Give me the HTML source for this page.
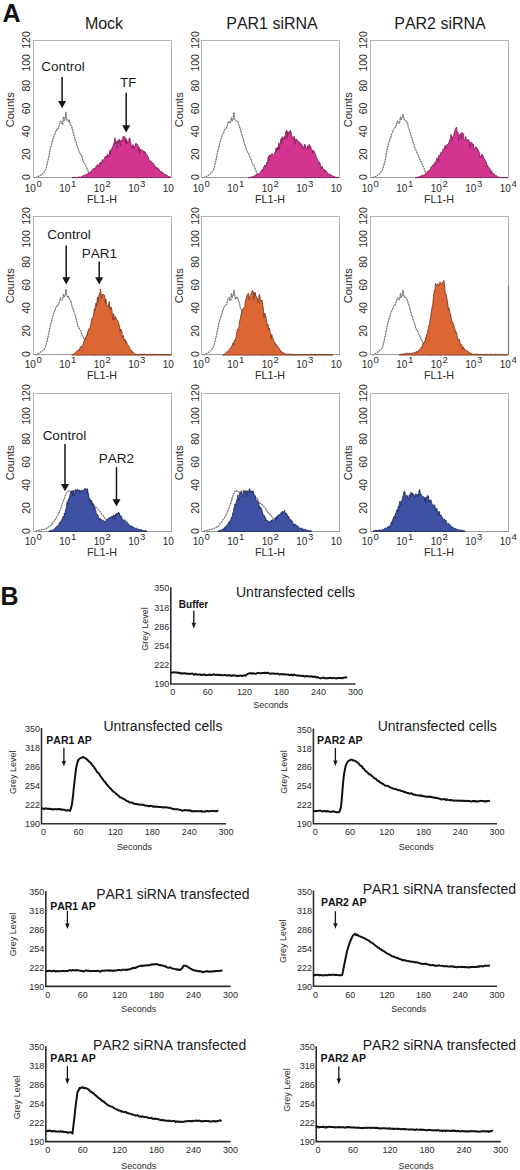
<!DOCTYPE html>
<html><head><meta charset="utf-8"><title>Figure</title>
<style>html,body{margin:0;padding:0;background:#fff;width:520px;height:1170px;overflow:hidden}
body{position:relative;font-family:"Liberation Sans", sans-serif}</style></head>
<body>
<svg width="520" height="1170" viewBox="0 0 520 1170" style="position:absolute;left:0;top:0">
<defs>
<clipPath id="c0"><rect x="0" y="0" width="174.6" height="1170"/></clipPath>
<clipPath id="c1"><rect x="174.6" y="0" width="168" height="1170"/></clipPath>
<clipPath id="c2"><rect x="342.6" y="0" width="178" height="1170"/></clipPath>
</defs>
<rect x="0" y="0" width="520" height="1170" fill="#fff"/>
<g font-family='"Liberation Sans", sans-serif' style="font-kerning:none">
<text x="2.6" y="21.9" font-size="25" font-weight="bold" fill="#111">A</text>
<text x="0.6" y="604.8" font-size="25" font-weight="bold" fill="#111">B</text>
<text x="104" y="28.6" font-size="16" text-anchor="middle" fill="#1a1a1a">Mock</text>
<text x="272" y="28.6" font-size="16" text-anchor="middle" fill="#1a1a1a">PAR1 siRNA</text>
<text x="440" y="28.6" font-size="16" text-anchor="middle" fill="#1a1a1a">PAR2 siRNA</text>
<g clip-path="url(#c0)">
<rect x="33.5" y="40.5" width="138" height="137.0" fill="none" stroke="#b4b4b4" stroke-width="1"/>
<line x1="33.0" y1="177.5" x2="172.0" y2="177.5" stroke="#9a9a9a" stroke-width="1.2"/>
<path d="M35.50 177.30 L35.50 177.30 36.30 177.30 37.10 177.28 37.90 176.93 38.70 176.29 39.50 175.83 40.30 175.27 41.10 175.17 41.90 174.48 42.70 173.73 43.50 172.79 44.30 171.70 45.10 170.56 45.90 168.90 46.70 165.98 47.50 162.20 48.30 159.17 49.10 156.30 49.90 150.50 50.70 147.44 51.50 144.45 52.30 140.80 53.10 138.43 53.90 136.16 54.70 134.66 55.50 131.78 56.30 131.39 57.10 128.57 57.90 128.93 58.70 126.90 59.50 124.43 60.30 121.28 61.10 121.31 61.90 122.82 62.70 124.69 63.50 116.94 64.30 120.27 65.10 119.68 65.90 112.39 66.70 118.86 67.50 120.82 68.30 121.85 69.10 119.95 69.90 123.47 70.70 125.21 71.50 125.79 72.30 129.05 73.10 132.51 73.90 134.77 74.70 138.41 75.50 140.69 76.30 142.42 77.10 147.00 77.90 147.76 78.70 151.22 79.50 151.91 80.30 154.25 81.10 154.81 81.90 156.69 82.70 159.32 83.50 162.01 84.30 163.09 85.10 164.27 85.90 166.20 86.70 167.55 87.50 169.46 88.30 171.70 89.10 173.45 89.90 174.79 90.70 176.56 91.50 176.85 92.30 177.30 93.10 177.30 93.90 177.30 94.70 177.30 95.50 177.30 96.30 177.30" fill="none" stroke="#a8a8a8" stroke-width="1.0" stroke-linejoin="round"/>
<path d="M35.50 177.30 L35.50 177.30 36.30 177.30 37.10 177.28 37.90 176.93 38.70 176.29 39.50 175.83 40.30 175.27 41.10 175.17 41.90 174.48 42.70 173.73 43.50 172.79 44.30 171.70 45.10 170.56 45.90 168.90 46.70 165.98 47.50 162.20 48.30 159.17 49.10 156.30 49.90 150.50 50.70 147.44 51.50 144.45 52.30 140.80 53.10 138.43 53.90 136.16 54.70 134.66 55.50 131.78 56.30 131.39 57.10 128.57 57.90 128.93 58.70 126.90 59.50 124.43 60.30 121.28 61.10 121.31 61.90 122.82 62.70 124.69 63.50 116.94 64.30 120.27 65.10 119.68 65.90 112.39 66.70 118.86 67.50 120.82 68.30 121.85 69.10 119.95 69.90 123.47 70.70 125.21 71.50 125.79 72.30 129.05 73.10 132.51 73.90 134.77 74.70 138.41 75.50 140.69 76.30 142.42 77.10 147.00 77.90 147.76 78.70 151.22 79.50 151.91 80.30 154.25 81.10 154.81 81.90 156.69 82.70 159.32 83.50 162.01 84.30 163.09 85.10 164.27 85.90 166.20 86.70 167.55 87.50 169.46 88.30 171.70 89.10 173.45 89.90 174.79 90.70 176.56 91.50 176.85 92.30 177.30 93.10 177.30 93.90 177.30 94.70 177.30 95.50 177.30 96.30 177.30" fill="none" stroke="#6a6a6a" stroke-width="1.1" stroke-dasharray="1.3 1.3" stroke-linejoin="round"/>
<path d="M72.00 177.60 L72.00 177.60 72.55 177.60 73.10 177.60 73.65 177.59 74.20 177.34 74.75 177.31 75.30 177.41 75.85 177.60 76.40 177.60 76.95 177.34 77.50 177.60 78.05 177.60 78.60 177.19 79.15 177.18 79.70 177.02 80.25 177.41 80.80 176.84 81.35 176.67 81.90 177.23 82.45 175.96 83.00 175.85 83.55 175.53 84.10 175.51 84.65 175.54 85.20 174.90 85.75 174.86 86.30 174.29 86.85 174.64 87.40 173.83 87.95 173.24 88.50 172.89 89.05 172.90 89.60 173.73 90.15 171.91 90.70 171.82 91.25 170.81 91.80 170.56 92.35 169.67 92.90 169.76 93.45 168.90 94.00 167.96 94.55 169.49 95.10 168.05 95.65 167.74 96.20 165.90 96.75 166.31 97.30 165.00 97.85 164.55 98.40 165.29 98.95 166.83 99.50 163.21 100.05 164.19 100.60 162.06 101.15 164.39 101.70 162.29 102.25 160.01 102.80 159.33 103.35 161.90 103.90 161.33 104.45 158.31 105.00 156.66 105.55 156.76 106.10 155.94 106.65 157.95 107.20 154.46 107.75 153.92 108.30 155.28 108.85 156.67 109.40 154.21 109.95 150.42 110.50 154.23 111.05 149.51 111.60 150.47 112.15 147.59 112.70 146.96 113.25 145.43 113.80 143.34 114.35 142.61 114.90 137.77 115.45 141.17 116.00 144.00 116.55 141.30 117.10 148.03 117.65 141.25 118.20 140.19 118.75 143.52 119.30 138.93 119.85 141.38 120.40 146.11 120.95 140.07 121.50 141.69 122.05 140.08 122.60 138.65 123.15 136.43 123.70 137.00 124.25 137.34 124.80 136.47 125.35 143.15 125.90 138.25 126.45 143.50 127.00 140.25 127.55 143.87 128.10 143.12 128.65 141.26 129.20 138.45 129.75 137.73 130.30 141.20 130.85 143.16 131.40 148.04 131.95 146.24 132.50 147.29 133.05 144.50 133.60 148.72 134.15 146.04 134.70 147.04 135.25 146.52 135.80 143.34 136.35 144.01 136.90 143.86 137.45 144.71 138.00 145.57 138.55 150.76 139.10 147.28 139.65 153.23 140.20 150.24 140.75 149.09 141.30 150.72 141.85 151.20 142.40 150.10 142.95 150.53 143.50 151.01 144.05 153.34 144.60 151.30 145.15 151.95 145.70 154.09 146.25 153.86 146.80 154.61 147.35 155.73 147.90 157.06 148.45 157.61 149.00 159.76 149.55 161.92 150.10 161.62 150.65 160.65 151.20 161.25 151.75 162.38 152.30 164.08 152.85 163.21 153.40 163.45 153.95 164.01 154.50 166.33 155.05 165.91 155.60 168.48 156.15 168.54 156.70 167.24 157.25 168.02 157.80 167.96 158.35 168.53 158.90 169.09 159.45 169.67 160.00 171.33 160.55 172.39 161.10 171.07 161.65 171.53 162.20 172.14 162.75 174.03 163.30 173.17 163.85 173.41 164.40 175.09 164.95 174.13 165.50 175.26 166.05 174.72 166.60 175.01 167.15 175.43 167.70 175.60 168.25 176.41 168.80 176.81 169.35 176.47 169.90 177.32 170.45 176.98 L170.45 177.60 Z" fill="#d43590" stroke="#861c58" stroke-width="0.9" stroke-linejoin="round"/>
<text transform="translate(29.6 177.0) rotate(-90)" font-size="10.5" text-anchor="middle" fill="#2a2a2a">0</text>
<text transform="translate(29.6 154.2) rotate(-90)" font-size="10.5" text-anchor="middle" fill="#2a2a2a">20</text>
<text transform="translate(29.6 131.3) rotate(-90)" font-size="10.5" text-anchor="middle" fill="#2a2a2a">40</text>
<text transform="translate(29.6 108.5) rotate(-90)" font-size="10.5" text-anchor="middle" fill="#2a2a2a">60</text>
<text transform="translate(29.6 85.7) rotate(-90)" font-size="10.5" text-anchor="middle" fill="#2a2a2a">80</text>
<text transform="translate(29.6 62.8) rotate(-90)" font-size="10.5" text-anchor="middle" fill="#2a2a2a">100</text>
<text transform="translate(29.6 40.0) rotate(-90)" font-size="10.5" text-anchor="middle" fill="#2a2a2a">120</text>
<text transform="translate(14.2 109.8) rotate(-90)" font-size="11" text-anchor="middle" fill="#2a2a2a">Counts</text>
<text x="33.3" y="191.8" font-size="10" text-anchor="middle" fill="#2a2a2a">10<tspan dx="0.8" dy="-4.7" font-size="9.6">0</tspan></text>
<text x="67.8" y="191.8" font-size="10" text-anchor="middle" fill="#2a2a2a">10<tspan dx="0.8" dy="-4.7" font-size="9.6">1</tspan></text>
<text x="102.3" y="191.8" font-size="10" text-anchor="middle" fill="#2a2a2a">10<tspan dx="0.8" dy="-4.7" font-size="9.6">2</tspan></text>
<text x="136.8" y="191.8" font-size="10" text-anchor="middle" fill="#2a2a2a">10<tspan dx="0.8" dy="-4.7" font-size="9.6">3</tspan></text>
<text x="171.3" y="191.8" font-size="10" text-anchor="middle" fill="#2a2a2a">10<tspan dx="0.8" dy="-4.7" font-size="9.6">4</tspan></text>
<text x="102.0" y="203.3" font-size="10.8" text-anchor="middle" fill="#2a2a2a">FL1-H</text>
</g>
<g clip-path="url(#c1)">
<rect x="201.5" y="40.5" width="138" height="137.0" fill="none" stroke="#b4b4b4" stroke-width="1"/>
<line x1="201.0" y1="177.5" x2="340.0" y2="177.5" stroke="#9a9a9a" stroke-width="1.2"/>
<path d="M203.50 177.30 L203.50 177.30 204.30 177.30 205.10 177.30 205.90 176.78 206.70 176.42 207.50 175.80 208.30 175.27 209.10 174.79 209.90 174.27 210.70 173.77 211.50 172.47 212.30 171.66 213.10 170.65 213.90 168.87 214.70 165.51 215.50 162.20 216.30 158.62 217.10 154.56 217.90 150.50 218.70 148.24 219.50 143.79 220.30 141.45 221.10 138.99 221.90 135.81 222.70 134.16 223.50 133.52 224.30 129.86 225.10 129.23 225.90 128.85 226.70 127.52 227.50 125.00 228.30 121.50 229.10 121.47 229.90 123.18 230.70 122.00 231.50 117.47 232.30 120.75 233.10 119.39 233.90 112.39 234.70 118.49 235.50 120.17 236.30 121.07 237.10 121.02 237.90 121.94 238.70 124.46 239.50 126.76 240.30 129.09 241.10 131.99 241.90 134.71 242.70 137.41 243.50 139.44 244.30 142.34 245.10 145.60 245.90 147.52 246.70 150.59 247.50 151.80 248.30 153.20 249.10 155.11 249.90 157.28 250.70 158.79 251.50 161.26 252.30 162.93 253.10 164.64 253.90 165.51 254.70 167.83 255.50 169.46 256.30 171.53 257.10 173.37 257.90 174.79 258.70 176.46 259.50 176.90 260.30 177.30 261.10 177.30 261.90 177.30 262.70 177.30 263.50 177.30 264.30 177.30" fill="none" stroke="#a8a8a8" stroke-width="1.0" stroke-linejoin="round"/>
<path d="M203.50 177.30 L203.50 177.30 204.30 177.30 205.10 177.30 205.90 176.78 206.70 176.42 207.50 175.80 208.30 175.27 209.10 174.79 209.90 174.27 210.70 173.77 211.50 172.47 212.30 171.66 213.10 170.65 213.90 168.87 214.70 165.51 215.50 162.20 216.30 158.62 217.10 154.56 217.90 150.50 218.70 148.24 219.50 143.79 220.30 141.45 221.10 138.99 221.90 135.81 222.70 134.16 223.50 133.52 224.30 129.86 225.10 129.23 225.90 128.85 226.70 127.52 227.50 125.00 228.30 121.50 229.10 121.47 229.90 123.18 230.70 122.00 231.50 117.47 232.30 120.75 233.10 119.39 233.90 112.39 234.70 118.49 235.50 120.17 236.30 121.07 237.10 121.02 237.90 121.94 238.70 124.46 239.50 126.76 240.30 129.09 241.10 131.99 241.90 134.71 242.70 137.41 243.50 139.44 244.30 142.34 245.10 145.60 245.90 147.52 246.70 150.59 247.50 151.80 248.30 153.20 249.10 155.11 249.90 157.28 250.70 158.79 251.50 161.26 252.30 162.93 253.10 164.64 253.90 165.51 254.70 167.83 255.50 169.46 256.30 171.53 257.10 173.37 257.90 174.79 258.70 176.46 259.50 176.90 260.30 177.30 261.10 177.30 261.90 177.30 262.70 177.30 263.50 177.30 264.30 177.30" fill="none" stroke="#6a6a6a" stroke-width="1.1" stroke-dasharray="1.3 1.3" stroke-linejoin="round"/>
<path d="M248.00 177.60 L248.00 177.60 248.55 177.60 249.10 177.60 249.65 177.59 250.20 177.37 250.75 177.04 251.30 177.43 251.85 176.64 252.40 176.81 252.95 176.64 253.50 176.05 254.05 176.05 254.60 175.99 255.15 175.45 255.70 175.01 256.25 174.97 256.80 174.15 257.35 174.93 257.90 174.04 258.45 173.71 259.00 174.16 259.55 173.84 260.10 173.48 260.65 171.47 261.20 170.84 261.75 170.46 262.30 169.43 262.85 170.61 263.40 168.11 263.95 166.77 264.50 165.46 265.05 166.54 265.60 164.99 266.15 166.28 266.70 162.40 267.25 163.99 267.80 161.25 268.35 156.21 268.90 160.65 269.45 155.09 270.00 155.15 270.55 156.15 271.10 154.33 271.65 153.97 272.20 153.69 272.75 154.72 273.30 154.93 273.85 154.42 274.40 154.69 274.95 152.15 275.50 152.71 276.05 147.93 276.60 151.48 277.15 147.81 277.70 146.98 278.25 149.41 278.80 142.73 279.35 149.52 279.90 143.93 280.45 143.23 281.00 138.72 281.55 143.54 282.10 136.77 282.65 139.85 283.20 138.13 283.75 139.32 284.30 136.00 284.85 139.14 285.40 134.73 285.95 131.98 286.50 130.00 287.05 138.18 287.60 131.36 288.15 132.88 288.70 134.57 289.25 131.46 289.80 133.26 290.35 130.10 290.90 132.12 291.45 134.64 292.00 135.99 292.55 137.24 293.10 137.83 293.65 139.82 294.20 136.24 294.75 142.79 295.30 144.46 295.85 138.90 296.40 139.74 296.95 139.17 297.50 141.44 298.05 141.93 298.60 141.26 299.15 141.40 299.70 144.31 300.25 144.67 300.80 143.19 301.35 143.94 301.90 148.23 302.45 145.45 303.00 146.20 303.55 148.89 304.10 148.92 304.65 144.02 305.20 145.41 305.75 147.11 306.30 149.36 306.85 148.99 307.40 145.81 307.95 147.17 308.50 148.79 309.05 144.29 309.60 146.09 310.15 145.83 310.70 146.61 311.25 148.91 311.80 149.61 312.35 150.14 312.90 153.29 313.45 150.44 314.00 151.18 314.55 152.60 315.10 154.17 315.65 154.93 316.20 157.08 316.75 158.35 317.30 158.82 317.85 160.86 318.40 161.37 318.95 164.40 319.50 162.08 320.05 163.50 320.60 166.29 321.15 168.86 321.70 166.34 322.25 166.36 322.80 168.76 323.35 169.12 323.90 169.92 324.45 169.34 325.00 171.50 325.55 170.38 326.10 171.76 326.65 171.41 327.20 172.38 327.75 173.13 328.30 174.73 328.85 174.34 329.40 174.31 329.95 174.05 330.50 174.61 331.05 175.63 331.60 175.21 332.15 175.51 332.70 176.10 333.25 176.46 333.80 176.62 334.35 176.36 334.90 176.58 335.45 177.39 336.00 177.06 336.55 177.52 337.10 177.51 337.65 177.60 338.20 177.60 338.75 177.60 L338.75 177.60 Z" fill="#d43590" stroke="#861c58" stroke-width="0.9" stroke-linejoin="round"/>
<text transform="translate(198.8 177.0) rotate(-90)" font-size="10.5" text-anchor="middle" fill="#2a2a2a">0</text>
<text transform="translate(198.8 154.2) rotate(-90)" font-size="10.5" text-anchor="middle" fill="#2a2a2a">20</text>
<text transform="translate(198.8 131.3) rotate(-90)" font-size="10.5" text-anchor="middle" fill="#2a2a2a">40</text>
<text transform="translate(198.8 108.5) rotate(-90)" font-size="10.5" text-anchor="middle" fill="#2a2a2a">60</text>
<text transform="translate(198.8 85.7) rotate(-90)" font-size="10.5" text-anchor="middle" fill="#2a2a2a">80</text>
<text transform="translate(198.8 62.8) rotate(-90)" font-size="10.5" text-anchor="middle" fill="#2a2a2a">100</text>
<text transform="translate(198.8 40.0) rotate(-90)" font-size="10.5" text-anchor="middle" fill="#2a2a2a">120</text>
<text transform="translate(182.7 109.8) rotate(-90)" font-size="11" text-anchor="middle" fill="#2a2a2a">Counts</text>
<text x="201.3" y="191.8" font-size="10" text-anchor="middle" fill="#2a2a2a">10<tspan dx="0.8" dy="-4.7" font-size="9.6">0</tspan></text>
<text x="235.8" y="191.8" font-size="10" text-anchor="middle" fill="#2a2a2a">10<tspan dx="0.8" dy="-4.7" font-size="9.6">1</tspan></text>
<text x="270.3" y="191.8" font-size="10" text-anchor="middle" fill="#2a2a2a">10<tspan dx="0.8" dy="-4.7" font-size="9.6">2</tspan></text>
<text x="304.8" y="191.8" font-size="10" text-anchor="middle" fill="#2a2a2a">10<tspan dx="0.8" dy="-4.7" font-size="9.6">3</tspan></text>
<text x="339.3" y="191.8" font-size="10" text-anchor="middle" fill="#2a2a2a">10<tspan dx="0.8" dy="-4.7" font-size="9.6">4</tspan></text>
<text x="270.0" y="203.3" font-size="10.8" text-anchor="middle" fill="#2a2a2a">FL1-H</text>
</g>
<g clip-path="url(#c2)">
<rect x="370.5" y="40.5" width="138" height="137.0" fill="none" stroke="#b4b4b4" stroke-width="1"/>
<line x1="370.0" y1="177.5" x2="509.0" y2="177.5" stroke="#9a9a9a" stroke-width="1.2"/>
<path d="M372.50 177.30 L372.50 177.30 373.30 177.30 374.10 177.28 374.90 177.07 375.70 176.47 376.50 175.85 377.30 175.27 378.10 174.87 378.90 174.76 379.70 173.46 380.50 172.83 381.30 171.29 382.10 170.47 382.90 168.62 383.70 165.66 384.50 162.89 385.30 159.66 386.10 155.06 386.90 150.54 387.70 146.84 388.50 143.74 389.30 141.54 390.10 138.22 390.90 137.31 391.70 133.58 392.50 132.54 393.30 129.70 394.10 128.57 394.90 127.54 395.70 127.60 396.50 124.01 397.30 121.15 398.10 121.58 398.90 123.80 399.70 122.00 400.50 117.09 401.30 119.60 402.10 118.70 402.90 114.31 403.70 117.37 404.50 120.17 405.30 120.46 406.10 120.95 406.90 122.98 407.70 123.25 408.50 128.38 409.30 129.05 410.10 132.26 410.90 135.34 411.70 137.59 412.50 140.08 413.30 142.79 414.10 145.10 414.90 148.40 415.70 149.70 416.50 151.59 417.30 153.65 418.10 154.81 418.90 157.26 419.70 158.95 420.50 160.75 421.30 162.41 422.10 164.21 422.90 165.78 423.70 167.60 424.50 169.69 425.30 171.97 426.10 173.17 426.90 175.03 427.70 176.59 428.50 177.01 429.30 177.29 430.10 177.30 430.90 177.30 431.70 177.30 432.50 177.30 433.30 177.30" fill="none" stroke="#a8a8a8" stroke-width="1.0" stroke-linejoin="round"/>
<path d="M372.50 177.30 L372.50 177.30 373.30 177.30 374.10 177.28 374.90 177.07 375.70 176.47 376.50 175.85 377.30 175.27 378.10 174.87 378.90 174.76 379.70 173.46 380.50 172.83 381.30 171.29 382.10 170.47 382.90 168.62 383.70 165.66 384.50 162.89 385.30 159.66 386.10 155.06 386.90 150.54 387.70 146.84 388.50 143.74 389.30 141.54 390.10 138.22 390.90 137.31 391.70 133.58 392.50 132.54 393.30 129.70 394.10 128.57 394.90 127.54 395.70 127.60 396.50 124.01 397.30 121.15 398.10 121.58 398.90 123.80 399.70 122.00 400.50 117.09 401.30 119.60 402.10 118.70 402.90 114.31 403.70 117.37 404.50 120.17 405.30 120.46 406.10 120.95 406.90 122.98 407.70 123.25 408.50 128.38 409.30 129.05 410.10 132.26 410.90 135.34 411.70 137.59 412.50 140.08 413.30 142.79 414.10 145.10 414.90 148.40 415.70 149.70 416.50 151.59 417.30 153.65 418.10 154.81 418.90 157.26 419.70 158.95 420.50 160.75 421.30 162.41 422.10 164.21 422.90 165.78 423.70 167.60 424.50 169.69 425.30 171.97 426.10 173.17 426.90 175.03 427.70 176.59 428.50 177.01 429.30 177.29 430.10 177.30 430.90 177.30 431.70 177.30 432.50 177.30 433.30 177.30" fill="none" stroke="#6a6a6a" stroke-width="1.1" stroke-dasharray="1.3 1.3" stroke-linejoin="round"/>
<path d="M415.20 177.60 L415.20 177.60 415.75 177.60 416.30 177.51 416.85 177.60 417.40 177.55 417.95 176.70 418.50 177.60 419.05 176.67 419.60 177.60 420.15 176.01 420.70 176.00 421.25 175.66 421.80 176.11 422.35 175.25 422.90 175.42 423.45 175.47 424.00 174.53 424.55 175.36 425.10 174.36 425.65 173.32 426.20 173.17 426.75 173.09 427.30 171.65 427.85 171.57 428.40 171.74 428.95 170.21 429.50 170.29 430.05 169.40 430.60 168.64 431.15 166.75 431.70 166.77 432.25 166.00 432.80 164.96 433.35 164.40 433.90 164.94 434.45 164.88 435.00 161.98 435.55 164.18 436.10 161.24 436.65 158.60 437.20 157.75 437.75 159.66 438.30 161.74 438.85 155.29 439.40 156.51 439.95 155.46 440.50 152.99 441.05 152.76 441.60 151.89 442.15 152.71 442.70 149.97 443.25 149.01 443.80 148.97 444.35 149.01 444.90 145.73 445.45 145.40 446.00 148.62 446.55 146.88 447.10 144.21 447.65 145.27 448.20 144.85 448.75 142.48 449.30 142.04 449.85 139.75 450.40 139.75 450.95 134.43 451.50 136.64 452.05 140.88 452.60 137.12 453.15 136.22 453.70 135.61 454.25 132.83 454.80 130.80 455.35 129.36 455.90 128.24 456.45 127.12 457.00 131.23 457.55 132.49 458.10 132.37 458.65 141.16 459.20 137.50 459.75 134.70 460.30 133.96 460.85 133.23 461.40 139.18 461.95 132.34 462.50 132.88 463.05 133.42 463.60 133.98 464.15 140.54 464.70 140.32 465.25 140.44 465.80 136.58 466.35 140.84 466.90 140.03 467.45 140.79 468.00 139.29 468.55 139.70 469.10 140.71 469.65 144.99 470.20 148.49 470.75 142.20 471.30 142.36 471.85 142.32 472.40 144.35 472.95 146.13 473.50 144.21 474.05 149.46 474.60 148.76 475.15 149.21 475.70 146.85 476.25 147.05 476.80 147.74 477.35 148.43 477.90 149.70 478.45 150.29 479.00 152.55 479.55 152.87 480.10 158.07 480.65 156.15 481.20 156.98 481.75 154.04 482.30 154.75 482.85 155.46 483.40 156.55 483.95 159.16 484.50 158.80 485.05 159.93 485.60 161.91 486.15 162.06 486.70 164.05 487.25 167.17 487.80 165.43 488.35 167.69 488.90 167.28 489.45 168.95 490.00 168.85 490.55 172.68 491.10 170.52 491.65 171.43 492.20 172.85 492.75 173.90 493.30 173.60 493.85 173.74 494.40 174.38 494.95 174.73 495.50 176.66 496.05 176.31 496.60 175.54 497.15 175.99 497.70 177.21 498.25 177.09 498.80 177.49 499.35 177.40 499.90 176.91 500.45 177.33 501.00 177.23 501.55 177.53 502.10 177.60 502.65 177.60 503.20 177.59 503.75 177.53 504.30 177.43 504.85 177.60 505.40 177.60 505.95 177.28 506.50 177.60 507.05 177.60 507.60 177.60 L507.60 177.60 Z" fill="#d43590" stroke="#861c58" stroke-width="0.9" stroke-linejoin="round"/>
<text transform="translate(366.9 177.0) rotate(-90)" font-size="10.5" text-anchor="middle" fill="#2a2a2a">0</text>
<text transform="translate(366.9 154.2) rotate(-90)" font-size="10.5" text-anchor="middle" fill="#2a2a2a">20</text>
<text transform="translate(366.9 131.3) rotate(-90)" font-size="10.5" text-anchor="middle" fill="#2a2a2a">40</text>
<text transform="translate(366.9 108.5) rotate(-90)" font-size="10.5" text-anchor="middle" fill="#2a2a2a">60</text>
<text transform="translate(366.9 85.7) rotate(-90)" font-size="10.5" text-anchor="middle" fill="#2a2a2a">80</text>
<text transform="translate(366.9 62.8) rotate(-90)" font-size="10.5" text-anchor="middle" fill="#2a2a2a">100</text>
<text transform="translate(366.9 40.0) rotate(-90)" font-size="10.5" text-anchor="middle" fill="#2a2a2a">120</text>
<text transform="translate(351.5 109.8) rotate(-90)" font-size="11" text-anchor="middle" fill="#2a2a2a">Counts</text>
<text x="370.3" y="191.8" font-size="10" text-anchor="middle" fill="#2a2a2a">10<tspan dx="0.8" dy="-4.7" font-size="9.6">0</tspan></text>
<text x="404.8" y="191.8" font-size="10" text-anchor="middle" fill="#2a2a2a">10<tspan dx="0.8" dy="-4.7" font-size="9.6">1</tspan></text>
<text x="439.3" y="191.8" font-size="10" text-anchor="middle" fill="#2a2a2a">10<tspan dx="0.8" dy="-4.7" font-size="9.6">2</tspan></text>
<text x="473.8" y="191.8" font-size="10" text-anchor="middle" fill="#2a2a2a">10<tspan dx="0.8" dy="-4.7" font-size="9.6">3</tspan></text>
<text x="508.3" y="191.8" font-size="10" text-anchor="middle" fill="#2a2a2a">10<tspan dx="0.8" dy="-4.7" font-size="9.6">4</tspan></text>
<text x="439.0" y="203.3" font-size="10.8" text-anchor="middle" fill="#2a2a2a">FL1-H</text>
</g>
<g clip-path="url(#c0)">
<rect x="33.5" y="216.5" width="138" height="138.0" fill="none" stroke="#b4b4b4" stroke-width="1"/>
<line x1="33.0" y1="354.5" x2="172.0" y2="354.5" stroke="#9a9a9a" stroke-width="1.2"/>
<path d="M35.50 354.80 L35.50 354.80 36.30 354.76 37.10 354.29 37.90 353.78 38.70 353.27 39.50 352.77 40.30 352.27 41.10 351.79 41.90 351.27 42.70 350.54 43.50 349.69 44.30 348.71 45.10 347.76 45.90 345.68 46.70 342.39 47.50 339.16 48.30 335.62 49.10 331.63 49.90 327.50 50.70 324.11 51.50 322.19 52.30 317.64 53.10 315.87 53.90 312.94 54.70 311.11 55.50 308.53 56.30 306.70 57.10 305.57 57.90 305.75 58.70 303.29 59.50 302.16 60.30 298.03 61.10 299.39 61.90 300.23 62.70 299.00 63.50 294.44 64.30 296.80 65.10 295.90 65.90 289.39 66.70 295.19 67.50 297.17 68.30 296.41 69.10 298.38 69.90 299.58 70.70 300.25 71.50 303.71 72.30 307.54 73.10 308.99 73.90 311.41 74.70 313.82 75.50 316.44 76.30 319.27 77.10 322.94 77.90 326.39 78.70 326.70 79.50 329.50 80.30 330.39 81.10 331.81 81.90 334.61 82.70 336.09 83.50 337.75 84.30 339.41 85.10 341.88 85.90 342.75 86.70 344.56 87.50 346.46 88.30 348.50 89.10 350.28 89.90 351.92 90.70 353.43 91.50 354.09 92.30 354.29 93.10 354.71 93.90 354.77 94.70 354.80 95.50 354.80 96.30 354.80" fill="none" stroke="#a8a8a8" stroke-width="1.0" stroke-linejoin="round"/>
<path d="M35.50 354.80 L35.50 354.80 36.30 354.76 37.10 354.29 37.90 353.78 38.70 353.27 39.50 352.77 40.30 352.27 41.10 351.79 41.90 351.27 42.70 350.54 43.50 349.69 44.30 348.71 45.10 347.76 45.90 345.68 46.70 342.39 47.50 339.16 48.30 335.62 49.10 331.63 49.90 327.50 50.70 324.11 51.50 322.19 52.30 317.64 53.10 315.87 53.90 312.94 54.70 311.11 55.50 308.53 56.30 306.70 57.10 305.57 57.90 305.75 58.70 303.29 59.50 302.16 60.30 298.03 61.10 299.39 61.90 300.23 62.70 299.00 63.50 294.44 64.30 296.80 65.10 295.90 65.90 289.39 66.70 295.19 67.50 297.17 68.30 296.41 69.10 298.38 69.90 299.58 70.70 300.25 71.50 303.71 72.30 307.54 73.10 308.99 73.90 311.41 74.70 313.82 75.50 316.44 76.30 319.27 77.10 322.94 77.90 326.39 78.70 326.70 79.50 329.50 80.30 330.39 81.10 331.81 81.90 334.61 82.70 336.09 83.50 337.75 84.30 339.41 85.10 341.88 85.90 342.75 86.70 344.56 87.50 346.46 88.30 348.50 89.10 350.28 89.90 351.92 90.70 353.43 91.50 354.09 92.30 354.29 93.10 354.71 93.90 354.77 94.70 354.80 95.50 354.80 96.30 354.80" fill="none" stroke="#6a6a6a" stroke-width="1.1" stroke-dasharray="1.3 1.3" stroke-linejoin="round"/>
<path d="M71.80 355.10 L71.80 355.00 72.35 354.67 72.90 354.43 73.45 353.80 74.00 353.76 74.55 353.42 75.10 353.41 75.65 352.58 76.20 351.66 76.75 351.29 77.30 350.80 77.85 350.59 78.40 350.04 78.95 349.48 79.50 350.65 80.05 347.64 80.60 346.87 81.15 346.10 81.70 348.10 82.25 347.31 82.80 345.12 83.35 343.45 83.90 341.17 84.45 340.60 85.00 338.58 85.55 339.31 86.10 336.34 86.65 334.86 87.20 335.54 87.75 331.99 88.30 330.57 88.85 328.78 89.40 329.44 89.95 328.01 90.50 325.40 91.05 323.11 91.60 319.45 92.15 317.82 92.70 317.40 93.25 316.58 93.80 313.44 94.35 308.69 94.90 310.50 95.45 305.55 96.00 303.07 96.55 306.94 97.10 300.32 97.65 296.95 98.20 303.16 98.75 296.10 99.30 293.75 99.85 294.48 100.40 289.04 100.95 292.67 101.50 299.00 102.05 294.33 102.60 294.49 103.15 294.49 103.70 294.49 104.25 294.93 104.80 296.94 105.35 303.07 105.90 299.12 106.45 304.20 107.00 304.47 107.55 306.93 108.10 306.03 108.65 304.71 109.20 301.59 109.75 309.74 110.30 309.84 110.85 306.75 111.40 307.94 111.95 309.81 112.50 317.55 113.05 320.25 113.60 313.67 114.15 317.70 114.70 319.80 115.25 316.49 115.80 317.38 116.35 319.12 116.90 319.78 117.45 320.20 118.00 321.51 118.55 323.19 119.10 324.87 119.65 326.55 120.20 332.37 120.75 329.09 121.30 330.24 121.85 331.39 122.40 337.43 122.95 336.15 123.50 335.41 124.05 340.85 124.60 339.30 125.15 339.23 125.70 343.15 126.25 341.40 126.80 342.49 127.35 344.38 127.90 344.68 128.45 345.42 129.00 346.84 129.55 347.36 130.10 349.55 130.65 350.01 131.20 349.80 131.75 350.88 132.30 352.23 132.85 351.83 133.40 352.52 133.95 353.59 134.50 354.25 135.05 353.82 135.60 354.02 136.15 354.28 136.70 354.20 137.25 354.74 137.80 354.25 138.35 354.83 138.90 354.68 139.45 354.28 140.00 354.29 140.55 354.30 141.10 354.36 141.65 354.43 142.20 354.43 142.75 354.33 143.30 354.55 143.85 354.42 144.40 354.34 144.95 354.49 145.50 354.33 146.05 354.33 146.60 354.32 147.15 354.37 147.70 354.59 148.25 354.57 148.80 354.45 149.35 354.29 149.90 354.54 150.45 354.31 151.00 354.27 151.55 355.00 152.10 354.78 152.65 354.33 153.20 354.28 153.75 354.32 154.30 354.54 154.85 354.25 155.40 354.33 155.95 354.59 156.50 354.27 157.05 354.32 157.60 354.61 158.15 354.47 158.70 354.52 159.25 354.47 159.80 355.00 160.35 354.62 160.90 354.32 161.45 354.83 162.00 354.50 162.55 354.34 163.10 354.34 163.65 354.35 164.20 355.00 164.75 354.59 165.30 354.58 165.85 354.32 166.40 354.31 166.95 355.00 167.50 354.29 168.05 354.89 168.60 354.27 169.15 354.90 169.70 354.36 170.25 354.25 170.80 354.45 171.35 354.73 L171.35 355.10 Z" fill="#dc6634" stroke="#7e3a22" stroke-width="0.9" stroke-linejoin="round"/>
<text transform="translate(29.6 354.0) rotate(-90)" font-size="10.5" text-anchor="middle" fill="#2a2a2a">0</text>
<text transform="translate(29.6 331.0) rotate(-90)" font-size="10.5" text-anchor="middle" fill="#2a2a2a">20</text>
<text transform="translate(29.6 308.0) rotate(-90)" font-size="10.5" text-anchor="middle" fill="#2a2a2a">40</text>
<text transform="translate(29.6 285.0) rotate(-90)" font-size="10.5" text-anchor="middle" fill="#2a2a2a">60</text>
<text transform="translate(29.6 262.0) rotate(-90)" font-size="10.5" text-anchor="middle" fill="#2a2a2a">80</text>
<text transform="translate(29.6 239.0) rotate(-90)" font-size="10.5" text-anchor="middle" fill="#2a2a2a">100</text>
<text transform="translate(29.6 216.0) rotate(-90)" font-size="10.5" text-anchor="middle" fill="#2a2a2a">120</text>
<text transform="translate(14.2 285.8) rotate(-90)" font-size="11" text-anchor="middle" fill="#2a2a2a">Counts</text>
<text x="33.3" y="367.8" font-size="10" text-anchor="middle" fill="#2a2a2a">10<tspan dx="0.8" dy="-4.7" font-size="9.6">0</tspan></text>
<text x="67.8" y="367.8" font-size="10" text-anchor="middle" fill="#2a2a2a">10<tspan dx="0.8" dy="-4.7" font-size="9.6">1</tspan></text>
<text x="102.3" y="367.8" font-size="10" text-anchor="middle" fill="#2a2a2a">10<tspan dx="0.8" dy="-4.7" font-size="9.6">2</tspan></text>
<text x="136.8" y="367.8" font-size="10" text-anchor="middle" fill="#2a2a2a">10<tspan dx="0.8" dy="-4.7" font-size="9.6">3</tspan></text>
<text x="171.3" y="367.8" font-size="10" text-anchor="middle" fill="#2a2a2a">10<tspan dx="0.8" dy="-4.7" font-size="9.6">4</tspan></text>
<text x="102.0" y="379.3" font-size="10.8" text-anchor="middle" fill="#2a2a2a">FL1-H</text>
</g>
<g clip-path="url(#c1)">
<rect x="201.5" y="216.5" width="138" height="138.0" fill="none" stroke="#b4b4b4" stroke-width="1"/>
<line x1="201.0" y1="354.5" x2="340.0" y2="354.5" stroke="#9a9a9a" stroke-width="1.2"/>
<path d="M203.50 354.80 L203.50 354.80 204.30 354.76 205.10 354.43 205.90 353.90 206.70 353.44 207.50 352.91 208.30 352.27 209.10 352.24 209.90 351.46 210.70 350.67 211.50 349.74 212.30 348.48 213.10 347.39 213.90 345.62 214.70 342.47 215.50 339.40 216.30 335.62 217.10 332.46 217.90 328.19 218.70 323.84 219.50 321.28 220.30 318.72 221.10 316.04 221.90 314.25 222.70 310.58 223.50 308.53 224.30 306.70 225.10 306.23 225.90 305.05 226.70 303.89 227.50 301.01 228.30 298.47 229.10 297.63 229.90 300.52 230.70 300.72 231.50 293.25 232.30 297.46 233.10 295.70 233.90 290.20 234.70 294.70 235.50 299.14 236.30 297.77 237.10 296.72 237.90 298.44 238.70 300.90 239.50 303.10 240.30 308.01 241.10 309.37 241.90 312.33 242.70 314.99 243.50 316.55 244.30 319.95 245.10 323.05 245.90 325.11 246.70 327.27 247.50 329.08 248.30 330.46 249.10 332.36 249.90 333.69 250.70 335.72 251.50 337.75 252.30 339.81 253.10 341.47 253.90 342.55 254.70 344.70 255.50 346.46 256.30 348.58 257.10 350.18 257.90 352.02 258.70 353.48 259.50 354.06 260.30 354.48 261.10 354.71 261.90 354.77 262.70 354.80 263.50 354.80 264.30 354.80" fill="none" stroke="#a8a8a8" stroke-width="1.0" stroke-linejoin="round"/>
<path d="M203.50 354.80 L203.50 354.80 204.30 354.76 205.10 354.43 205.90 353.90 206.70 353.44 207.50 352.91 208.30 352.27 209.10 352.24 209.90 351.46 210.70 350.67 211.50 349.74 212.30 348.48 213.10 347.39 213.90 345.62 214.70 342.47 215.50 339.40 216.30 335.62 217.10 332.46 217.90 328.19 218.70 323.84 219.50 321.28 220.30 318.72 221.10 316.04 221.90 314.25 222.70 310.58 223.50 308.53 224.30 306.70 225.10 306.23 225.90 305.05 226.70 303.89 227.50 301.01 228.30 298.47 229.10 297.63 229.90 300.52 230.70 300.72 231.50 293.25 232.30 297.46 233.10 295.70 233.90 290.20 234.70 294.70 235.50 299.14 236.30 297.77 237.10 296.72 237.90 298.44 238.70 300.90 239.50 303.10 240.30 308.01 241.10 309.37 241.90 312.33 242.70 314.99 243.50 316.55 244.30 319.95 245.10 323.05 245.90 325.11 246.70 327.27 247.50 329.08 248.30 330.46 249.10 332.36 249.90 333.69 250.70 335.72 251.50 337.75 252.30 339.81 253.10 341.47 253.90 342.55 254.70 344.70 255.50 346.46 256.30 348.58 257.10 350.18 257.90 352.02 258.70 353.48 259.50 354.06 260.30 354.48 261.10 354.71 261.90 354.77 262.70 354.80 263.50 354.80 264.30 354.80" fill="none" stroke="#6a6a6a" stroke-width="1.1" stroke-dasharray="1.3 1.3" stroke-linejoin="round"/>
<path d="M222.80 355.10 L222.80 355.00 223.35 354.71 223.90 354.73 224.45 354.05 225.00 353.63 225.55 353.08 226.10 352.49 226.65 352.22 227.20 351.45 227.75 351.35 228.30 351.75 228.85 350.48 229.40 349.01 229.95 348.53 230.50 348.23 231.05 348.21 231.60 346.17 232.15 345.90 232.70 344.18 233.25 342.57 233.80 345.24 234.35 340.43 234.90 341.26 235.45 338.95 236.00 338.09 236.55 333.38 237.10 331.20 237.65 328.96 238.20 329.41 238.75 328.86 239.30 324.16 239.85 320.39 240.40 318.68 240.95 314.81 241.50 315.05 242.05 311.34 242.60 309.93 243.15 308.53 243.70 307.75 244.25 307.21 244.80 307.14 245.35 301.19 245.90 299.25 246.45 298.09 247.00 295.05 247.55 295.01 248.10 293.30 248.65 293.37 249.20 299.66 249.75 297.89 250.30 295.58 250.85 294.92 251.40 292.47 251.95 291.23 252.50 290.27 253.05 291.15 253.60 299.48 254.15 292.49 254.70 296.23 255.25 292.44 255.80 295.79 256.35 296.80 256.90 298.27 257.45 298.22 258.00 303.24 258.55 301.81 259.10 294.81 259.65 294.76 260.20 298.78 260.75 299.86 261.30 301.29 261.85 299.99 262.40 302.20 262.95 306.21 263.50 310.62 264.05 317.73 264.60 313.05 265.15 313.97 265.70 315.94 266.25 318.53 266.80 322.50 267.35 325.49 267.90 324.15 268.45 326.90 269.00 330.12 269.55 328.18 270.10 332.85 270.65 333.65 271.20 338.78 271.75 334.60 272.30 337.17 272.85 338.34 273.40 339.07 273.95 342.05 274.50 342.77 275.05 342.49 275.60 345.16 276.15 344.53 276.70 345.04 277.25 345.81 277.80 346.58 278.35 347.36 278.90 348.13 279.45 349.07 280.00 349.51 280.55 351.43 281.10 351.16 281.65 352.12 282.20 352.16 282.75 353.33 283.30 352.76 283.85 352.95 284.40 353.90 284.95 353.54 285.50 353.85 286.05 354.48 286.60 354.33 287.15 354.43 287.70 354.09 288.25 354.49 288.80 354.10 289.35 354.11 289.90 354.13 290.45 354.14 291.00 354.16 291.55 354.38 292.10 354.24 292.65 354.36 293.20 354.30 293.75 354.24 294.30 355.00 294.85 354.96 295.40 354.55 295.95 354.32 296.50 354.62 297.05 354.54 297.60 354.35 298.15 354.35 298.70 354.53 299.25 354.59 299.80 354.93 300.35 354.34 300.90 354.45 301.45 354.77 302.00 354.33 302.55 354.59 303.10 354.58 303.65 354.98 304.20 354.30 304.75 354.70 305.30 354.37 305.85 354.39 306.40 354.63 306.95 354.47 307.50 354.53 308.05 354.53 308.60 354.39 309.15 354.65 309.70 354.26 310.25 354.40 310.80 354.81 311.35 354.30 311.90 354.56 312.45 354.27 313.00 355.00 313.55 354.32 314.10 355.00 314.65 354.58 315.20 354.26 315.75 354.26 316.30 354.26 316.85 354.68 317.40 354.82 317.95 354.49 318.50 354.34 319.05 354.50 319.60 354.69 320.15 354.75 320.70 354.61 321.25 354.30 321.80 354.49 322.35 354.60 322.90 354.57 323.45 354.79 324.00 354.91 324.55 354.45 325.10 354.33 325.65 354.35 326.20 354.92 326.75 354.34 327.30 354.43 327.85 354.50 328.40 354.56 328.95 354.62 329.50 354.67 330.05 354.73 330.60 354.78 331.15 354.83 331.70 354.89 332.25 354.94 332.80 355.00 L332.80 355.10 Z" fill="#dc6634" stroke="#7e3a22" stroke-width="0.9" stroke-linejoin="round"/>
<text transform="translate(198.8 354.0) rotate(-90)" font-size="10.5" text-anchor="middle" fill="#2a2a2a">0</text>
<text transform="translate(198.8 331.0) rotate(-90)" font-size="10.5" text-anchor="middle" fill="#2a2a2a">20</text>
<text transform="translate(198.8 308.0) rotate(-90)" font-size="10.5" text-anchor="middle" fill="#2a2a2a">40</text>
<text transform="translate(198.8 285.0) rotate(-90)" font-size="10.5" text-anchor="middle" fill="#2a2a2a">60</text>
<text transform="translate(198.8 262.0) rotate(-90)" font-size="10.5" text-anchor="middle" fill="#2a2a2a">80</text>
<text transform="translate(198.8 239.0) rotate(-90)" font-size="10.5" text-anchor="middle" fill="#2a2a2a">100</text>
<text transform="translate(198.8 216.0) rotate(-90)" font-size="10.5" text-anchor="middle" fill="#2a2a2a">120</text>
<text transform="translate(182.7 285.8) rotate(-90)" font-size="11" text-anchor="middle" fill="#2a2a2a">Counts</text>
<text x="201.3" y="367.8" font-size="10" text-anchor="middle" fill="#2a2a2a">10<tspan dx="0.8" dy="-4.7" font-size="9.6">0</tspan></text>
<text x="235.8" y="367.8" font-size="10" text-anchor="middle" fill="#2a2a2a">10<tspan dx="0.8" dy="-4.7" font-size="9.6">1</tspan></text>
<text x="270.3" y="367.8" font-size="10" text-anchor="middle" fill="#2a2a2a">10<tspan dx="0.8" dy="-4.7" font-size="9.6">2</tspan></text>
<text x="304.8" y="367.8" font-size="10" text-anchor="middle" fill="#2a2a2a">10<tspan dx="0.8" dy="-4.7" font-size="9.6">3</tspan></text>
<text x="339.3" y="367.8" font-size="10" text-anchor="middle" fill="#2a2a2a">10<tspan dx="0.8" dy="-4.7" font-size="9.6">4</tspan></text>
<text x="270.0" y="379.3" font-size="10.8" text-anchor="middle" fill="#2a2a2a">FL1-H</text>
</g>
<g clip-path="url(#c2)">
<rect x="370.5" y="216.5" width="138" height="138.0" fill="none" stroke="#b4b4b4" stroke-width="1"/>
<line x1="370.0" y1="354.5" x2="509.0" y2="354.5" stroke="#9a9a9a" stroke-width="1.2"/>
<line x1="508.5" y1="285.5" x2="508.5" y2="354.5" stroke="#7a7a7a" stroke-width="1.2"/>
<path d="M372.50 354.80 L372.50 354.80 373.30 354.76 374.10 354.47 374.90 353.81 375.70 353.39 376.50 352.94 377.30 352.27 378.10 351.86 378.90 351.45 379.70 350.42 380.50 349.63 381.30 348.83 382.10 347.84 382.90 345.99 383.70 342.39 384.50 339.16 385.30 335.62 386.10 331.56 386.90 327.50 387.70 323.84 388.50 320.58 389.30 317.64 390.10 316.00 390.90 312.81 391.70 310.89 392.50 309.07 393.30 306.70 394.10 305.57 394.90 305.23 395.70 303.75 396.50 301.01 397.30 298.66 398.10 297.63 398.90 299.80 399.70 299.00 400.50 293.25 401.30 297.40 402.10 296.54 402.90 289.97 403.70 295.12 404.50 297.17 405.30 296.41 406.10 297.85 406.90 298.44 407.70 301.52 408.50 303.78 409.30 306.63 410.10 309.27 410.90 312.11 411.70 316.12 412.50 316.44 413.30 319.78 414.10 322.85 414.90 324.52 415.70 327.37 416.50 329.75 417.30 330.20 418.10 331.82 418.90 334.39 419.70 335.72 420.50 337.78 421.30 340.16 422.10 340.96 422.90 342.58 423.70 345.04 424.50 346.46 425.30 348.59 426.10 350.17 426.90 352.18 427.70 353.43 428.50 353.85 429.30 354.29 430.10 354.71 430.90 354.77 431.70 354.80 432.50 354.80 433.30 354.80" fill="none" stroke="#a8a8a8" stroke-width="1.0" stroke-linejoin="round"/>
<path d="M372.50 354.80 L372.50 354.80 373.30 354.76 374.10 354.47 374.90 353.81 375.70 353.39 376.50 352.94 377.30 352.27 378.10 351.86 378.90 351.45 379.70 350.42 380.50 349.63 381.30 348.83 382.10 347.84 382.90 345.99 383.70 342.39 384.50 339.16 385.30 335.62 386.10 331.56 386.90 327.50 387.70 323.84 388.50 320.58 389.30 317.64 390.10 316.00 390.90 312.81 391.70 310.89 392.50 309.07 393.30 306.70 394.10 305.57 394.90 305.23 395.70 303.75 396.50 301.01 397.30 298.66 398.10 297.63 398.90 299.80 399.70 299.00 400.50 293.25 401.30 297.40 402.10 296.54 402.90 289.97 403.70 295.12 404.50 297.17 405.30 296.41 406.10 297.85 406.90 298.44 407.70 301.52 408.50 303.78 409.30 306.63 410.10 309.27 410.90 312.11 411.70 316.12 412.50 316.44 413.30 319.78 414.10 322.85 414.90 324.52 415.70 327.37 416.50 329.75 417.30 330.20 418.10 331.82 418.90 334.39 419.70 335.72 420.50 337.78 421.30 340.16 422.10 340.96 422.90 342.58 423.70 345.04 424.50 346.46 425.30 348.59 426.10 350.17 426.90 352.18 427.70 353.43 428.50 353.85 429.30 354.29 430.10 354.71 430.90 354.77 431.70 354.80 432.50 354.80 433.30 354.80" fill="none" stroke="#6a6a6a" stroke-width="1.1" stroke-dasharray="1.3 1.3" stroke-linejoin="round"/>
<path d="M399.30 355.10 L399.30 355.00 399.85 354.73 400.40 354.83 400.95 354.03 401.50 353.77 402.05 354.16 402.60 354.47 403.15 353.87 403.70 353.57 404.25 353.50 404.80 354.27 405.35 354.27 405.90 353.34 406.45 353.30 407.00 353.24 407.55 353.18 408.10 353.45 408.65 353.49 409.20 353.02 409.75 353.41 410.30 353.64 410.85 353.80 411.40 353.05 411.95 352.97 412.50 353.21 413.05 352.99 413.60 352.74 414.15 352.55 414.70 352.50 415.25 352.37 415.80 353.43 416.35 351.43 416.90 352.58 417.45 351.24 418.00 352.02 418.55 350.39 419.10 350.77 419.65 349.48 420.20 348.73 420.75 348.39 421.30 346.86 421.85 348.16 422.40 346.01 422.95 344.07 423.50 343.97 424.05 342.41 424.60 341.34 425.15 341.49 425.70 337.34 426.25 338.01 426.80 333.96 427.35 333.80 427.90 329.56 428.45 328.39 429.00 325.07 429.55 325.41 430.10 319.55 430.65 317.77 431.20 312.78 431.75 309.19 432.30 306.11 432.85 304.83 433.40 296.80 433.95 293.26 434.50 289.78 435.05 289.42 435.60 283.04 436.15 285.19 436.70 285.72 437.25 284.87 437.80 283.86 438.35 285.53 438.90 285.93 439.45 284.20 440.00 281.84 440.55 282.69 441.10 283.54 441.65 284.38 442.20 283.24 442.75 281.91 443.30 281.70 443.85 280.52 444.40 283.92 444.95 290.14 445.50 294.68 446.05 293.93 446.60 297.75 447.15 299.95 447.70 302.97 448.25 310.13 448.80 307.63 449.35 309.89 449.90 312.97 450.45 314.04 451.00 316.95 451.55 321.41 452.10 321.38 452.65 322.06 453.20 323.44 453.75 325.12 454.30 327.77 454.85 328.49 455.40 332.66 455.95 331.46 456.50 332.86 457.05 335.74 457.60 339.79 458.15 339.49 458.70 338.89 459.25 339.85 459.80 341.26 460.35 344.82 460.90 344.40 461.45 344.49 462.00 346.09 462.55 349.51 463.10 346.80 463.65 347.57 464.20 348.34 464.75 350.40 465.30 350.26 465.85 350.04 466.40 350.18 466.95 350.57 467.50 351.27 468.05 351.35 468.60 352.16 469.15 352.07 469.70 353.15 470.25 353.30 470.80 353.06 471.35 353.39 471.90 353.73 472.45 353.90 473.00 354.80 473.55 354.37 474.10 354.35 474.65 354.34 475.20 353.97 475.75 354.31 476.30 354.03 476.85 354.21 477.40 354.39 477.95 354.26 478.50 354.18 479.05 354.18 479.60 354.54 480.15 354.48 480.70 354.84 481.25 354.24 481.80 354.24 482.35 354.46 482.90 354.56 483.45 354.80 484.00 354.34 484.55 354.33 485.10 354.24 485.65 354.32 486.20 354.65 486.75 355.00 487.30 354.24 487.85 354.34 488.40 354.92 488.95 354.34 489.50 354.92 490.05 354.24 490.60 354.24 491.15 354.24 491.70 354.46 492.25 355.00 492.80 354.44 493.35 354.91 493.90 354.24 494.45 355.00 495.00 354.70 495.55 354.24 496.10 354.24 496.65 354.78 497.20 354.90 497.75 354.24 498.30 354.24 498.85 354.72 499.40 354.63 499.95 354.63 500.50 354.79 501.05 354.62 501.60 354.24 502.15 354.24 502.70 354.24 503.25 354.43 503.80 354.44 504.35 354.72 504.90 354.44 505.45 354.83 506.00 354.98 506.55 354.24 507.10 354.31 507.65 354.79 L507.65 355.10 Z" fill="#dc6634" stroke="#7e3a22" stroke-width="0.9" stroke-linejoin="round"/>
<text transform="translate(366.9 354.0) rotate(-90)" font-size="10.5" text-anchor="middle" fill="#2a2a2a">0</text>
<text transform="translate(366.9 331.0) rotate(-90)" font-size="10.5" text-anchor="middle" fill="#2a2a2a">20</text>
<text transform="translate(366.9 308.0) rotate(-90)" font-size="10.5" text-anchor="middle" fill="#2a2a2a">40</text>
<text transform="translate(366.9 285.0) rotate(-90)" font-size="10.5" text-anchor="middle" fill="#2a2a2a">60</text>
<text transform="translate(366.9 262.0) rotate(-90)" font-size="10.5" text-anchor="middle" fill="#2a2a2a">80</text>
<text transform="translate(366.9 239.0) rotate(-90)" font-size="10.5" text-anchor="middle" fill="#2a2a2a">100</text>
<text transform="translate(366.9 216.0) rotate(-90)" font-size="10.5" text-anchor="middle" fill="#2a2a2a">120</text>
<text transform="translate(351.5 285.8) rotate(-90)" font-size="11" text-anchor="middle" fill="#2a2a2a">Counts</text>
<text x="370.3" y="367.8" font-size="10" text-anchor="middle" fill="#2a2a2a">10<tspan dx="0.8" dy="-4.7" font-size="9.6">0</tspan></text>
<text x="404.8" y="367.8" font-size="10" text-anchor="middle" fill="#2a2a2a">10<tspan dx="0.8" dy="-4.7" font-size="9.6">1</tspan></text>
<text x="439.3" y="367.8" font-size="10" text-anchor="middle" fill="#2a2a2a">10<tspan dx="0.8" dy="-4.7" font-size="9.6">2</tspan></text>
<text x="473.8" y="367.8" font-size="10" text-anchor="middle" fill="#2a2a2a">10<tspan dx="0.8" dy="-4.7" font-size="9.6">3</tspan></text>
<text x="508.3" y="367.8" font-size="10" text-anchor="middle" fill="#2a2a2a">10<tspan dx="0.8" dy="-4.7" font-size="9.6">4</tspan></text>
<text x="439.0" y="379.3" font-size="10.8" text-anchor="middle" fill="#2a2a2a">FL1-H</text>
</g>
<g clip-path="url(#c0)">
<rect x="33.5" y="393.5" width="138" height="138.0" fill="none" stroke="#b4b4b4" stroke-width="1"/>
<line x1="33.0" y1="531.5" x2="172.0" y2="531.5" stroke="#9a9a9a" stroke-width="1.2"/>
<path d="M36.00 531.00 L36.00 531.00 36.80 530.80 37.60 530.60 38.40 530.37 39.20 530.21 40.00 530.26 40.80 530.18 41.60 529.79 42.40 529.52 43.20 529.43 44.00 529.46 44.80 529.13 45.60 528.59 46.40 528.53 47.20 527.73 48.00 527.30 48.80 526.88 49.60 526.44 50.40 526.21 51.20 525.02 52.00 523.75 52.80 522.96 53.60 521.90 54.40 521.21 55.20 519.67 56.00 518.05 56.80 516.82 57.60 515.59 58.40 514.36 59.20 512.36 60.00 510.45 60.80 508.29 61.60 506.08 62.40 503.11 63.20 501.01 64.00 499.60 64.80 497.26 65.60 494.62 66.40 492.94 67.20 492.03 68.00 491.37 68.80 490.63 69.60 490.91 70.40 491.29 71.20 492.59 72.00 491.47 72.80 491.19 73.60 491.10 74.40 490.80 75.20 491.34 76.00 490.79 76.80 490.46 77.60 491.11 78.40 491.05 79.20 491.05 80.00 491.46 80.80 492.01 81.60 492.19 82.40 492.19 83.20 493.53 84.00 492.53 84.80 493.73 85.60 494.01 86.40 495.71 87.20 495.98 88.00 497.42 88.80 498.45 89.60 499.87 90.40 500.35 91.20 501.11 92.00 503.58 92.80 503.14 93.60 504.33 94.40 505.70 95.20 507.04 96.00 506.81 96.80 507.79 97.60 508.42 98.40 509.83 99.20 511.08 100.00 511.47 100.80 512.52 101.60 513.97 102.40 514.89 103.20 515.53 104.00 517.09 104.80 518.09 105.60 518.78 106.40 519.65 107.20 520.86 108.00 524.61 108.80 529.67" fill="none" stroke="#a8a8a8" stroke-width="1.0" stroke-linejoin="round"/>
<path d="M36.00 531.00 L36.00 531.00 36.80 530.80 37.60 530.60 38.40 530.37 39.20 530.21 40.00 530.26 40.80 530.18 41.60 529.79 42.40 529.52 43.20 529.43 44.00 529.46 44.80 529.13 45.60 528.59 46.40 528.53 47.20 527.73 48.00 527.30 48.80 526.88 49.60 526.44 50.40 526.21 51.20 525.02 52.00 523.75 52.80 522.96 53.60 521.90 54.40 521.21 55.20 519.67 56.00 518.05 56.80 516.82 57.60 515.59 58.40 514.36 59.20 512.36 60.00 510.45 60.80 508.29 61.60 506.08 62.40 503.11 63.20 501.01 64.00 499.60 64.80 497.26 65.60 494.62 66.40 492.94 67.20 492.03 68.00 491.37 68.80 490.63 69.60 490.91 70.40 491.29 71.20 492.59 72.00 491.47 72.80 491.19 73.60 491.10 74.40 490.80 75.20 491.34 76.00 490.79 76.80 490.46 77.60 491.11 78.40 491.05 79.20 491.05 80.00 491.46 80.80 492.01 81.60 492.19 82.40 492.19 83.20 493.53 84.00 492.53 84.80 493.73 85.60 494.01 86.40 495.71 87.20 495.98 88.00 497.42 88.80 498.45 89.60 499.87 90.40 500.35 91.20 501.11 92.00 503.58 92.80 503.14 93.60 504.33 94.40 505.70 95.20 507.04 96.00 506.81 96.80 507.79 97.60 508.42 98.40 509.83 99.20 511.08 100.00 511.47 100.80 512.52 101.60 513.97 102.40 514.89 103.20 515.53 104.00 517.09 104.80 518.09 105.60 518.78 106.40 519.65 107.20 520.86 108.00 524.61 108.80 529.67" fill="none" stroke="#6a6a6a" stroke-width="1.1" stroke-dasharray="1.3 1.3" stroke-linejoin="round"/>
<path d="M49.00 531.40 L49.00 531.00 49.55 530.91 50.10 530.82 50.65 530.73 51.20 530.63 51.75 530.54 52.30 530.34 52.85 529.76 53.40 530.01 53.95 530.26 54.50 528.72 55.05 527.97 55.60 527.41 56.15 526.74 56.70 526.62 57.25 526.49 57.80 526.09 58.35 524.91 58.90 524.42 59.45 522.84 60.00 522.13 60.55 523.53 61.10 520.73 61.65 520.61 62.20 518.94 62.75 517.51 63.30 516.08 63.85 518.27 64.40 513.10 64.95 514.89 65.50 509.53 66.05 509.74 66.60 505.91 67.15 501.83 67.70 505.00 68.25 499.07 68.80 499.99 69.35 497.02 69.90 496.16 70.45 492.24 71.00 493.32 71.55 491.05 72.10 490.77 72.65 496.16 73.20 490.42 73.75 491.92 74.30 495.53 74.85 492.68 75.40 489.71 75.95 489.54 76.50 492.25 77.05 490.09 77.60 489.86 78.15 489.62 78.70 491.16 79.25 489.91 79.80 493.47 80.35 493.16 80.90 490.35 81.45 490.49 82.00 491.62 82.55 490.49 83.10 490.84 83.65 489.82 84.20 489.27 84.75 488.71 85.30 488.15 85.85 489.50 86.40 489.19 86.95 493.51 87.50 488.67 88.05 492.84 88.60 493.79 89.15 500.79 89.70 498.59 90.25 500.05 90.80 504.30 91.35 500.37 91.90 501.50 92.45 506.33 93.00 503.78 93.55 504.92 94.10 509.39 94.65 507.25 95.20 508.55 95.75 509.85 96.30 514.40 96.85 515.05 97.40 514.05 97.95 515.07 98.50 518.52 99.05 518.39 99.60 519.65 100.15 518.09 100.70 520.19 101.25 519.58 101.80 520.03 102.35 520.23 102.90 520.43 103.45 520.68 104.00 520.83 104.55 521.04 105.10 523.14 105.65 521.75 106.20 520.05 106.75 519.91 107.30 520.15 107.85 518.83 108.40 518.17 108.95 518.51 109.50 517.57 110.05 517.27 110.60 517.98 111.15 516.67 111.70 516.37 112.25 516.01 112.80 518.48 113.35 515.27 113.90 514.90 114.45 515.30 115.00 519.20 115.55 514.36 116.10 515.69 116.65 513.19 117.20 513.34 117.75 514.20 118.30 512.29 118.85 513.05 119.40 512.99 119.95 516.21 120.50 515.73 121.05 515.68 121.60 516.65 122.15 519.16 122.70 519.97 123.25 520.06 123.80 519.86 124.35 519.77 124.90 520.65 125.45 520.90 126.00 521.42 126.55 522.21 127.10 522.36 127.65 522.83 128.20 523.94 128.75 524.37 129.30 524.62 129.85 525.73 130.40 526.67 130.95 525.62 131.50 526.49 132.05 526.01 132.60 527.23 133.15 526.98 133.70 527.25 134.25 527.99 134.80 527.69 135.35 528.58 135.90 528.57 136.45 528.22 137.00 528.45 137.55 528.91 138.10 529.58 138.65 529.09 139.20 529.23 139.75 530.67 140.30 529.52 140.85 529.74 141.40 529.81 141.95 529.96 142.50 530.61 143.05 530.25 143.60 530.64 144.15 530.57 144.70 530.65 145.25 530.74 145.80 530.82 146.35 530.90 146.90 530.99 L146.90 531.40 Z" fill="#3f51a3" stroke="#222c62" stroke-width="0.9" stroke-linejoin="round"/>
<text transform="translate(29.6 531.0) rotate(-90)" font-size="10.5" text-anchor="middle" fill="#2a2a2a">0</text>
<text transform="translate(29.6 508.0) rotate(-90)" font-size="10.5" text-anchor="middle" fill="#2a2a2a">20</text>
<text transform="translate(29.6 485.0) rotate(-90)" font-size="10.5" text-anchor="middle" fill="#2a2a2a">40</text>
<text transform="translate(29.6 462.0) rotate(-90)" font-size="10.5" text-anchor="middle" fill="#2a2a2a">60</text>
<text transform="translate(29.6 439.0) rotate(-90)" font-size="10.5" text-anchor="middle" fill="#2a2a2a">80</text>
<text transform="translate(29.6 416.0) rotate(-90)" font-size="10.5" text-anchor="middle" fill="#2a2a2a">100</text>
<text transform="translate(29.6 393.0) rotate(-90)" font-size="10.5" text-anchor="middle" fill="#2a2a2a">120</text>
<text transform="translate(14.2 462.8) rotate(-90)" font-size="11" text-anchor="middle" fill="#2a2a2a">Counts</text>
<text x="33.3" y="544.8" font-size="10" text-anchor="middle" fill="#2a2a2a">10<tspan dx="0.8" dy="-4.7" font-size="9.6">0</tspan></text>
<text x="67.8" y="544.8" font-size="10" text-anchor="middle" fill="#2a2a2a">10<tspan dx="0.8" dy="-4.7" font-size="9.6">1</tspan></text>
<text x="102.3" y="544.8" font-size="10" text-anchor="middle" fill="#2a2a2a">10<tspan dx="0.8" dy="-4.7" font-size="9.6">2</tspan></text>
<text x="136.8" y="544.8" font-size="10" text-anchor="middle" fill="#2a2a2a">10<tspan dx="0.8" dy="-4.7" font-size="9.6">3</tspan></text>
<text x="171.3" y="544.8" font-size="10" text-anchor="middle" fill="#2a2a2a">10<tspan dx="0.8" dy="-4.7" font-size="9.6">4</tspan></text>
<text x="102.0" y="556.3" font-size="10.8" text-anchor="middle" fill="#2a2a2a">FL1-H</text>
</g>
<g clip-path="url(#c1)">
<rect x="201.5" y="393.5" width="138" height="138.0" fill="none" stroke="#b4b4b4" stroke-width="1"/>
<line x1="201.0" y1="531.5" x2="340.0" y2="531.5" stroke="#9a9a9a" stroke-width="1.2"/>
<path d="M204.00 531.00 L204.00 531.00 204.80 530.80 205.60 530.60 206.40 530.49 207.20 530.21 208.00 530.21 208.80 529.88 209.60 529.94 210.40 529.52 211.20 529.42 212.00 529.15 212.80 528.96 213.60 528.67 214.40 528.32 215.20 527.74 216.00 527.42 216.80 527.20 217.60 526.44 218.40 526.71 219.20 525.00 220.00 523.75 220.80 522.66 221.60 522.26 222.40 520.48 223.20 519.41 224.00 518.51 224.80 517.31 225.60 515.76 226.40 514.36 227.20 512.66 228.00 510.36 228.80 508.92 229.60 505.70 230.40 504.38 231.20 502.22 232.00 498.58 232.80 496.16 233.60 494.12 234.40 492.84 235.20 490.89 236.00 491.70 236.80 490.73 237.60 490.84 238.40 491.94 239.20 491.58 240.00 491.38 240.80 491.19 241.60 491.39 242.40 491.30 243.20 490.61 244.00 491.53 244.80 490.22 245.60 491.23 246.40 490.78 247.20 492.02 248.00 492.11 248.80 492.22 249.60 491.49 250.40 492.07 251.20 492.32 252.00 492.30 252.80 493.56 253.60 493.47 254.40 495.34 255.20 496.66 256.00 497.52 256.80 497.93 257.60 499.05 258.40 500.77 259.20 502.11 260.00 503.43 260.80 503.42 261.60 504.18 262.40 505.22 263.20 506.13 264.00 506.81 264.80 507.85 265.60 508.46 266.40 509.76 267.20 511.17 268.00 512.88 268.80 512.75 269.60 514.11 270.40 515.03 271.20 516.04 272.00 516.71 272.80 517.68 273.60 519.69 274.40 519.99 275.20 520.88 276.00 524.56 276.80 529.76" fill="none" stroke="#a8a8a8" stroke-width="1.0" stroke-linejoin="round"/>
<path d="M204.00 531.00 L204.00 531.00 204.80 530.80 205.60 530.60 206.40 530.49 207.20 530.21 208.00 530.21 208.80 529.88 209.60 529.94 210.40 529.52 211.20 529.42 212.00 529.15 212.80 528.96 213.60 528.67 214.40 528.32 215.20 527.74 216.00 527.42 216.80 527.20 217.60 526.44 218.40 526.71 219.20 525.00 220.00 523.75 220.80 522.66 221.60 522.26 222.40 520.48 223.20 519.41 224.00 518.51 224.80 517.31 225.60 515.76 226.40 514.36 227.20 512.66 228.00 510.36 228.80 508.92 229.60 505.70 230.40 504.38 231.20 502.22 232.00 498.58 232.80 496.16 233.60 494.12 234.40 492.84 235.20 490.89 236.00 491.70 236.80 490.73 237.60 490.84 238.40 491.94 239.20 491.58 240.00 491.38 240.80 491.19 241.60 491.39 242.40 491.30 243.20 490.61 244.00 491.53 244.80 490.22 245.60 491.23 246.40 490.78 247.20 492.02 248.00 492.11 248.80 492.22 249.60 491.49 250.40 492.07 251.20 492.32 252.00 492.30 252.80 493.56 253.60 493.47 254.40 495.34 255.20 496.66 256.00 497.52 256.80 497.93 257.60 499.05 258.40 500.77 259.20 502.11 260.00 503.43 260.80 503.42 261.60 504.18 262.40 505.22 263.20 506.13 264.00 506.81 264.80 507.85 265.60 508.46 266.40 509.76 267.20 511.17 268.00 512.88 268.80 512.75 269.60 514.11 270.40 515.03 271.20 516.04 272.00 516.71 272.80 517.68 273.60 519.69 274.40 519.99 275.20 520.88 276.00 524.56 276.80 529.76" fill="none" stroke="#6a6a6a" stroke-width="1.1" stroke-dasharray="1.3 1.3" stroke-linejoin="round"/>
<path d="M218.00 531.40 L218.00 531.00 218.55 530.86 219.10 530.73 219.65 530.59 220.20 530.36 220.75 530.18 221.30 529.95 221.85 529.97 222.40 529.34 222.95 529.21 223.50 528.59 224.05 529.03 224.60 527.35 225.15 529.21 225.70 526.52 226.25 525.52 226.80 525.62 227.35 525.53 227.90 524.00 228.45 522.56 229.00 521.76 229.55 523.64 230.10 520.54 230.65 520.73 231.20 517.64 231.75 517.85 232.30 515.40 232.85 512.95 233.40 511.64 233.95 507.78 234.50 507.36 235.05 503.80 235.60 506.35 236.15 502.48 236.70 500.29 237.25 499.39 237.80 494.72 238.35 500.77 238.90 500.12 239.45 493.44 240.00 492.37 240.55 493.32 241.10 492.03 241.65 491.86 242.20 494.50 242.75 496.69 243.30 493.40 243.85 491.28 244.40 491.54 244.95 493.09 245.50 491.57 246.05 491.51 246.60 496.85 247.15 490.75 247.70 493.57 248.25 491.27 248.80 491.35 249.35 488.99 249.90 488.81 250.45 492.31 251.00 492.69 251.55 491.04 252.10 490.76 252.65 493.32 253.20 490.98 253.75 494.79 254.30 495.60 254.85 495.52 255.40 495.84 255.95 500.55 256.50 500.43 257.05 500.17 257.60 503.66 258.15 502.42 258.70 502.51 259.25 508.92 259.80 506.16 260.35 509.06 260.90 507.70 261.45 509.04 262.00 510.38 262.55 512.96 263.10 515.68 263.65 514.77 264.20 515.37 264.75 517.00 265.30 517.26 265.85 518.38 266.40 521.10 266.95 520.71 267.50 520.11 268.05 522.58 268.60 521.54 269.15 522.49 269.70 521.55 270.25 521.32 270.80 522.07 271.35 520.17 271.90 521.46 272.45 519.57 273.00 521.58 273.55 521.18 274.10 520.42 274.65 519.63 275.20 517.70 275.75 520.42 276.30 516.71 276.85 519.07 277.40 515.73 277.95 515.82 278.50 516.52 279.05 514.26 279.60 515.57 280.15 514.27 280.70 513.68 281.25 512.34 281.80 514.69 282.35 511.27 282.90 512.12 283.45 512.28 284.00 511.45 284.55 510.30 285.10 512.60 285.65 514.53 286.20 512.98 286.75 514.34 287.30 514.65 287.85 518.22 288.40 516.18 288.95 516.94 289.50 519.65 290.05 519.79 290.60 519.29 291.15 520.95 291.70 520.50 292.25 521.16 292.80 522.56 293.35 524.57 293.90 526.12 294.45 523.83 295.00 525.97 295.55 524.39 296.10 524.83 296.65 525.70 297.20 525.70 297.75 526.14 298.30 526.58 298.85 528.23 299.40 528.32 299.95 528.12 300.50 527.87 301.05 528.78 301.60 528.22 302.15 528.20 302.70 529.06 303.25 529.00 303.80 529.81 304.35 529.47 304.90 529.23 305.45 529.38 306.00 529.68 306.55 530.28 307.10 529.81 307.65 531.00 308.20 530.47 308.75 530.69 309.30 530.51 309.85 530.61 310.40 530.71 310.95 530.81 311.50 530.91 L311.50 531.40 Z" fill="#3f51a3" stroke="#222c62" stroke-width="0.9" stroke-linejoin="round"/>
<text transform="translate(198.8 531.0) rotate(-90)" font-size="10.5" text-anchor="middle" fill="#2a2a2a">0</text>
<text transform="translate(198.8 508.0) rotate(-90)" font-size="10.5" text-anchor="middle" fill="#2a2a2a">20</text>
<text transform="translate(198.8 485.0) rotate(-90)" font-size="10.5" text-anchor="middle" fill="#2a2a2a">40</text>
<text transform="translate(198.8 462.0) rotate(-90)" font-size="10.5" text-anchor="middle" fill="#2a2a2a">60</text>
<text transform="translate(198.8 439.0) rotate(-90)" font-size="10.5" text-anchor="middle" fill="#2a2a2a">80</text>
<text transform="translate(198.8 416.0) rotate(-90)" font-size="10.5" text-anchor="middle" fill="#2a2a2a">100</text>
<text transform="translate(198.8 393.0) rotate(-90)" font-size="10.5" text-anchor="middle" fill="#2a2a2a">120</text>
<text transform="translate(182.7 462.8) rotate(-90)" font-size="11" text-anchor="middle" fill="#2a2a2a">Counts</text>
<text x="201.3" y="544.8" font-size="10" text-anchor="middle" fill="#2a2a2a">10<tspan dx="0.8" dy="-4.7" font-size="9.6">0</tspan></text>
<text x="235.8" y="544.8" font-size="10" text-anchor="middle" fill="#2a2a2a">10<tspan dx="0.8" dy="-4.7" font-size="9.6">1</tspan></text>
<text x="270.3" y="544.8" font-size="10" text-anchor="middle" fill="#2a2a2a">10<tspan dx="0.8" dy="-4.7" font-size="9.6">2</tspan></text>
<text x="304.8" y="544.8" font-size="10" text-anchor="middle" fill="#2a2a2a">10<tspan dx="0.8" dy="-4.7" font-size="9.6">3</tspan></text>
<text x="339.3" y="544.8" font-size="10" text-anchor="middle" fill="#2a2a2a">10<tspan dx="0.8" dy="-4.7" font-size="9.6">4</tspan></text>
<text x="270.0" y="556.3" font-size="10.8" text-anchor="middle" fill="#2a2a2a">FL1-H</text>
</g>
<g clip-path="url(#c2)">
<rect x="370.5" y="393.5" width="138" height="138.0" fill="none" stroke="#b4b4b4" stroke-width="1"/>
<line x1="370.0" y1="531.5" x2="509.0" y2="531.5" stroke="#9a9a9a" stroke-width="1.2"/>
<path d="M373.00 531.40 L373.00 531.00 373.55 530.79 374.10 530.59 374.65 530.98 375.20 530.44 375.75 530.14 376.30 530.35 376.85 530.18 377.40 530.78 377.95 530.25 378.50 530.27 379.05 529.87 379.60 529.96 380.15 530.00 380.70 530.28 381.25 530.29 381.80 529.87 382.35 529.60 382.90 530.65 383.45 530.74 384.00 528.86 384.55 528.57 385.10 528.27 385.65 528.05 386.20 528.34 386.75 528.04 387.30 528.47 387.85 526.54 388.40 526.60 388.95 527.80 389.50 525.88 390.05 525.41 390.60 525.01 391.15 522.80 391.70 521.63 392.25 524.42 392.80 519.29 393.35 518.12 393.90 516.95 394.45 515.73 395.00 518.72 395.55 513.15 396.10 512.56 396.65 510.57 397.20 509.29 397.75 512.00 398.30 506.25 398.85 508.18 399.40 502.83 399.95 501.13 400.50 502.35 401.05 505.50 401.60 500.99 402.15 500.05 402.70 496.90 403.25 495.62 403.80 492.50 404.35 491.17 404.90 491.40 405.45 497.38 406.00 497.08 406.55 495.16 407.10 495.56 407.65 495.96 408.20 498.43 408.75 499.28 409.30 494.63 409.85 496.90 410.40 495.35 410.95 492.36 411.50 492.63 412.05 495.25 412.60 492.99 413.15 495.45 413.70 494.38 414.25 496.19 414.80 497.83 415.35 494.23 415.90 494.02 416.45 494.30 417.00 494.30 417.55 496.90 418.10 494.13 418.65 495.34 419.20 489.80 419.75 489.67 420.30 493.34 420.85 495.19 421.40 494.21 421.95 496.64 422.50 496.37 423.05 496.60 423.60 496.97 424.15 497.06 424.70 500.98 425.25 497.46 425.80 503.20 426.35 497.26 426.90 497.72 427.45 495.48 428.00 496.39 428.55 496.02 429.10 502.25 429.65 500.01 430.20 501.69 430.75 499.84 431.30 501.29 431.85 503.66 432.40 504.55 432.95 505.72 433.50 505.13 434.05 504.61 434.60 505.22 435.15 507.37 435.70 510.03 436.25 510.24 436.80 508.18 437.35 512.08 437.90 511.37 438.45 515.92 439.00 511.33 439.55 513.15 440.10 515.33 440.65 515.46 441.20 515.11 441.75 517.10 442.30 517.22 442.85 518.12 443.40 520.51 443.95 521.86 444.50 518.99 445.05 521.11 445.60 520.14 446.15 520.72 446.70 522.63 447.25 523.39 447.80 523.81 448.35 523.07 448.90 524.20 449.45 524.91 450.00 524.47 450.55 526.40 451.10 526.43 451.65 526.80 452.20 526.70 452.75 528.18 453.30 527.99 453.85 527.64 454.40 528.78 454.95 529.03 455.50 528.27 456.05 529.49 456.60 529.22 457.15 529.06 457.70 529.57 458.25 529.59 458.80 529.95 459.35 530.66 459.90 529.89 460.45 530.03 461.00 529.99 461.55 530.81 462.10 530.38 462.65 530.23 463.20 530.53 463.75 530.67 464.30 530.82 464.85 530.96 L464.85 531.40 Z" fill="#3f51a3" stroke="#222c62" stroke-width="0.9" stroke-linejoin="round"/>
<text transform="translate(366.9 531.0) rotate(-90)" font-size="10.5" text-anchor="middle" fill="#2a2a2a">0</text>
<text transform="translate(366.9 508.0) rotate(-90)" font-size="10.5" text-anchor="middle" fill="#2a2a2a">20</text>
<text transform="translate(366.9 485.0) rotate(-90)" font-size="10.5" text-anchor="middle" fill="#2a2a2a">40</text>
<text transform="translate(366.9 462.0) rotate(-90)" font-size="10.5" text-anchor="middle" fill="#2a2a2a">60</text>
<text transform="translate(366.9 439.0) rotate(-90)" font-size="10.5" text-anchor="middle" fill="#2a2a2a">80</text>
<text transform="translate(366.9 416.0) rotate(-90)" font-size="10.5" text-anchor="middle" fill="#2a2a2a">100</text>
<text transform="translate(366.9 393.0) rotate(-90)" font-size="10.5" text-anchor="middle" fill="#2a2a2a">120</text>
<text transform="translate(351.5 462.8) rotate(-90)" font-size="11" text-anchor="middle" fill="#2a2a2a">Counts</text>
<text x="370.3" y="544.8" font-size="10" text-anchor="middle" fill="#2a2a2a">10<tspan dx="0.8" dy="-4.7" font-size="9.6">0</tspan></text>
<text x="404.8" y="544.8" font-size="10" text-anchor="middle" fill="#2a2a2a">10<tspan dx="0.8" dy="-4.7" font-size="9.6">1</tspan></text>
<text x="439.3" y="544.8" font-size="10" text-anchor="middle" fill="#2a2a2a">10<tspan dx="0.8" dy="-4.7" font-size="9.6">2</tspan></text>
<text x="473.8" y="544.8" font-size="10" text-anchor="middle" fill="#2a2a2a">10<tspan dx="0.8" dy="-4.7" font-size="9.6">3</tspan></text>
<text x="508.3" y="544.8" font-size="10" text-anchor="middle" fill="#2a2a2a">10<tspan dx="0.8" dy="-4.7" font-size="9.6">4</tspan></text>
<text x="439.0" y="556.3" font-size="10.8" text-anchor="middle" fill="#2a2a2a">FL1-H</text>
</g>
<text x="63.1" y="70.6" font-size="13.5" text-anchor="middle" fill="#1a1a1a">Control</text>
<text x="128.2" y="86.5" font-size="13" text-anchor="middle" fill="#1a1a1a">TF</text>
<text x="69.0" y="239.2" font-size="13.5" text-anchor="middle" fill="#1a1a1a">Control</text>
<text x="99.5" y="257.7" font-size="13.5" text-anchor="middle" fill="#1a1a1a">PAR1</text>
<text x="64.4" y="439.6" font-size="13.5" text-anchor="middle" fill="#1a1a1a">Control</text>
<text x="116.5" y="462.7" font-size="13.5" text-anchor="middle" fill="#1a1a1a">PAR2</text>
<line x1="62.1" y1="76.9" x2="62.1" y2="102.0" stroke="#151515" stroke-width="1.5"/>
<path d="M58.1 101.0 L66.1 101.0 L62.1 108.3 Z" fill="#151515"/>
<line x1="126.2" y1="92.7" x2="126.2" y2="126.2" stroke="#151515" stroke-width="1.5"/>
<path d="M122.2 125.2 L130.2 125.2 L126.2 132.5 Z" fill="#151515"/>
<line x1="66.2" y1="245.4" x2="66.2" y2="278.3" stroke="#151515" stroke-width="1.5"/>
<path d="M62.2 277.3 L70.2 277.3 L66.2 284.6 Z" fill="#151515"/>
<line x1="99.2" y1="261.5" x2="99.2" y2="278.3" stroke="#151515" stroke-width="1.5"/>
<path d="M95.2 277.3 L103.2 277.3 L99.2 284.6 Z" fill="#151515"/>
<line x1="65.0" y1="444.0" x2="65.0" y2="484.9" stroke="#151515" stroke-width="1.5"/>
<path d="M61.0 483.9 L69.0 483.9 L65.0 491.2 Z" fill="#151515"/>
<line x1="116.5" y1="467.1" x2="116.5" y2="500.2" stroke="#151515" stroke-width="1.5"/>
<path d="M112.5 499.2 L120.5 499.2 L116.5 506.5 Z" fill="#151515"/>
<path d="M170.8 587.2 L170.8 684.0 L355.4 684.0" fill="none" stroke="#2e2e2e" stroke-width="1.6"/>
<text x="169.3" y="687.2" font-size="9" text-anchor="end" fill="#2a2a2a">190</text>
<text x="169.3" y="668.0" font-size="9" text-anchor="end" fill="#2a2a2a">222</text>
<text x="169.3" y="648.9" font-size="9" text-anchor="end" fill="#2a2a2a">254</text>
<text x="169.3" y="629.7" font-size="9" text-anchor="end" fill="#2a2a2a">286</text>
<text x="169.3" y="610.6" font-size="9" text-anchor="end" fill="#2a2a2a">318</text>
<text x="169.3" y="591.4" font-size="9" text-anchor="end" fill="#2a2a2a">350</text>
<text x="172.7" y="695.2" font-size="9" text-anchor="middle" fill="#2a2a2a">0</text>
<text x="207.7" y="695.2" font-size="9" text-anchor="middle" fill="#2a2a2a">60</text>
<text x="244.6" y="695.2" font-size="9" text-anchor="middle" fill="#2a2a2a">120</text>
<text x="281.6" y="695.2" font-size="9" text-anchor="middle" fill="#2a2a2a">180</text>
<text x="318.5" y="695.2" font-size="9" text-anchor="middle" fill="#2a2a2a">240</text>
<text x="355.4" y="695.2" font-size="9" text-anchor="middle" fill="#2a2a2a">300</text>
<text x="270.8" y="708.4" font-size="9" text-anchor="middle" fill="#2a2a2a">Seconds</text>
<text transform="translate(148.3 629.0) rotate(-90)" font-size="9" text-anchor="middle" fill="#2a2a2a">Grey Level</text>
<text x="236.0" y="597.0" font-size="14" fill="#1a1a1a">Untransfected cells</text>
<text x="178.8" y="607.7" font-size="10" font-weight="bold" fill="#111">Buffer</text>
<line x1="193.8" y1="610.6" x2="193.8" y2="623.8" stroke="#151515" stroke-width="1.3"/>
<path d="M191.6 622.8 L196.0 622.8 L193.8 628.4 Z" fill="#151515"/>
<path d="M171.50 672.47 L172.50 672.59 L173.50 672.50 L174.50 672.14 L175.50 672.57 L176.50 672.42 L177.50 672.85 L178.50 672.54 L179.50 673.15 L180.50 673.12 L181.50 673.62 L182.50 673.31 L183.50 673.43 L184.50 673.24 L185.50 673.25 L186.50 673.89 L187.50 673.63 L188.50 673.83 L189.50 673.85 L190.50 674.07 L191.50 673.50 L192.50 673.58 L193.50 674.29 L194.50 674.83 L195.50 673.81 L196.50 674.22 L197.50 674.56 L198.50 674.46 L199.50 674.61 L200.50 674.61 L201.50 674.98 L202.50 674.75 L203.50 674.80 L204.50 674.45 L205.50 674.96 L206.50 675.25 L207.50 674.97 L208.50 674.74 L209.50 674.51 L210.50 674.98 L211.50 674.98 L212.50 674.82 L213.50 674.29 L214.50 674.70 L215.50 674.63 L216.50 674.70 L217.50 675.01 L218.50 674.69 L219.50 674.91 L220.50 675.36 L221.50 674.87 L222.50 675.11 L223.50 675.35 L224.50 675.07 L225.50 674.89 L226.50 675.41 L227.50 675.63 L228.50 674.99 L229.50 675.42 L230.50 675.43 L231.50 675.96 L232.50 675.25 L233.50 675.66 L234.50 675.39 L235.50 675.57 L236.50 675.89 L237.50 675.85 L238.50 675.89 L239.50 675.66 L240.50 675.35 L241.50 675.93 L242.50 676.00 L243.50 675.52 L244.50 675.35 L245.50 675.65 L246.50 674.72 L247.50 673.94 L248.50 673.62 L249.50 673.18 L250.50 673.22 L251.50 673.49 L252.50 673.20 L253.50 673.54 L254.50 673.62 L255.50 673.66 L256.50 673.53 L257.50 672.91 L258.50 673.12 L259.50 673.12 L260.50 673.25 L261.50 673.26 L262.50 672.95 L263.50 672.99 L264.50 672.76 L265.50 672.96 L266.50 672.90 L267.50 672.78 L268.50 673.07 L269.50 673.44 L270.50 673.65 L271.50 673.41 L272.50 673.38 L273.50 673.58 L274.50 673.78 L275.50 673.80 L276.50 673.84 L277.50 673.77 L278.50 673.83 L279.50 674.56 L280.50 674.34 L281.50 673.92 L282.50 674.44 L283.50 674.11 L284.50 674.46 L285.50 674.34 L286.50 674.63 L287.50 674.50 L288.50 674.66 L289.50 674.93 L290.50 675.05 L291.50 674.50 L292.50 675.37 L293.50 674.56 L294.50 674.80 L295.50 675.12 L296.50 675.46 L297.50 675.38 L298.50 675.34 L299.50 675.81 L300.50 675.63 L301.50 675.68 L302.50 675.98 L303.50 675.65 L304.50 676.47 L305.50 676.31 L306.50 676.05 L307.50 676.14 L308.50 676.24 L309.50 676.46 L310.50 676.50 L311.50 676.31 L312.50 676.39 L313.50 677.08 L314.50 676.57 L315.50 676.85 L316.50 677.51 L317.50 676.97 L318.50 677.62 L319.50 677.90 L320.50 678.39 L321.50 678.16 L322.50 677.88 L323.50 677.58 L324.50 678.23 L325.50 678.22 L326.50 678.33 L327.50 678.34 L328.50 677.96 L329.50 677.89 L330.50 677.71 L331.50 678.13 L332.50 678.25 L333.50 677.89 L334.50 678.13 L335.50 678.35 L336.50 678.52 L337.50 677.94 L338.50 678.09 L339.50 677.92 L340.50 677.94 L341.50 678.33 L342.50 678.22 L343.50 677.72 L344.50 677.62 L345.50 677.37 L346.40 677.40" fill="none" stroke="#111" stroke-width="2.0" stroke-linejoin="round" stroke-linecap="round"/>
<path d="M41.5 728.0 L41.5 823.8 L226.1 823.8" fill="none" stroke="#2e2e2e" stroke-width="1.6"/>
<text x="40.0" y="827.0" font-size="9" text-anchor="end" fill="#2a2a2a">190</text>
<text x="40.0" y="808.0" font-size="9" text-anchor="end" fill="#2a2a2a">222</text>
<text x="40.0" y="789.1" font-size="9" text-anchor="end" fill="#2a2a2a">254</text>
<text x="40.0" y="770.1" font-size="9" text-anchor="end" fill="#2a2a2a">286</text>
<text x="40.0" y="751.2" font-size="9" text-anchor="end" fill="#2a2a2a">318</text>
<text x="40.0" y="732.2" font-size="9" text-anchor="end" fill="#2a2a2a">350</text>
<text x="43.4" y="835.0" font-size="9" text-anchor="middle" fill="#2a2a2a">0</text>
<text x="78.4" y="835.0" font-size="9" text-anchor="middle" fill="#2a2a2a">60</text>
<text x="115.3" y="835.0" font-size="9" text-anchor="middle" fill="#2a2a2a">120</text>
<text x="152.3" y="835.0" font-size="9" text-anchor="middle" fill="#2a2a2a">180</text>
<text x="189.2" y="835.0" font-size="9" text-anchor="middle" fill="#2a2a2a">240</text>
<text x="226.1" y="835.0" font-size="9" text-anchor="middle" fill="#2a2a2a">300</text>
<text x="134.6" y="849.8" font-size="9" text-anchor="middle" fill="#2a2a2a">Seconds</text>
<text transform="translate(15.5 772.2) rotate(-90)" font-size="9" text-anchor="middle" fill="#2a2a2a">Grey Level</text>
<text x="103.4" y="731.2" font-size="14" fill="#1a1a1a">Untransfected cells</text>
<text x="46.3" y="743.5" font-size="10.5" font-weight="bold" fill="#111">PAR1 AP</text>
<line x1="63.9" y1="747.7" x2="63.9" y2="761.9" stroke="#151515" stroke-width="1.3"/>
<path d="M61.7 760.9 L66.1 760.9 L63.9 766.5 Z" fill="#151515"/>
<path d="M42.00 808.36 L43.00 808.46 L44.00 809.13 L45.00 808.49 L46.00 808.29 L47.00 808.77 L48.00 808.77 L49.00 808.94 L50.00 808.72 L51.00 809.22 L52.00 809.04 L53.00 809.57 L54.00 809.11 L55.00 809.08 L56.00 809.41 L57.00 809.31 L58.00 808.93 L59.00 809.37 L60.00 809.04 L61.00 809.67 L62.00 809.37 L63.00 809.76 L64.00 809.62 L65.00 810.06 L66.00 810.48 L67.00 810.58 L68.00 810.27 L69.00 810.25 L70.00 810.92 L71.00 808.20 L72.00 804.12 L73.00 795.96 L74.00 785.82 L75.00 777.49 L76.00 768.91 L77.00 764.06 L78.00 760.63 L79.00 759.10 L80.00 758.49 L81.00 757.77 L82.00 757.65 L83.00 756.96 L84.00 757.48 L85.00 758.10 L86.00 758.69 L87.00 759.38 L88.00 760.52 L89.00 761.61 L90.00 762.27 L91.00 763.14 L92.00 764.56 L93.00 765.84 L94.00 766.91 L95.00 768.78 L96.00 769.93 L97.00 771.93 L98.00 772.65 L99.00 773.77 L100.00 775.55 L101.00 776.78 L102.00 778.33 L103.00 779.48 L104.00 781.24 L105.00 781.91 L106.00 783.48 L107.00 784.63 L108.00 785.95 L109.00 786.69 L110.00 788.26 L111.00 788.69 L112.00 790.20 L113.00 791.22 L114.00 792.17 L115.00 792.50 L116.00 793.93 L117.00 794.38 L118.00 795.48 L119.00 796.12 L120.00 797.43 L121.00 797.38 L122.00 798.05 L123.00 798.77 L124.00 798.91 L125.00 799.74 L126.00 800.39 L127.00 801.09 L128.00 801.32 L129.00 802.15 L130.00 802.48 L131.00 802.60 L132.00 802.57 L133.00 803.03 L134.00 803.69 L135.00 803.90 L136.00 803.92 L137.00 803.89 L138.00 804.51 L139.00 804.60 L140.00 804.61 L141.00 804.74 L142.00 804.63 L143.00 804.78 L144.00 805.02 L145.00 805.60 L146.00 805.77 L147.00 805.67 L148.00 805.87 L149.00 806.37 L150.00 805.79 L151.00 806.07 L152.00 805.95 L153.00 806.84 L154.00 806.32 L155.00 806.86 L156.00 806.77 L157.00 806.50 L158.00 806.90 L159.00 806.88 L160.00 807.03 L161.00 807.07 L162.00 807.29 L163.00 807.39 L164.00 807.15 L165.00 807.65 L166.00 807.37 L167.00 807.34 L168.00 807.73 L169.00 807.78 L170.00 808.00 L171.00 808.07 L172.00 808.73 L173.00 808.91 L174.00 808.71 L175.00 809.38 L176.00 809.19 L177.00 809.20 L178.00 809.30 L179.00 809.84 L180.00 809.84 L181.00 810.02 L182.00 810.79 L183.00 810.38 L184.00 810.21 L185.00 810.06 L186.00 810.32 L187.00 810.34 L188.00 810.45 L189.00 810.10 L190.00 810.83 L191.00 810.61 L192.00 811.54 L193.00 811.01 L194.00 811.36 L195.00 811.24 L196.00 810.99 L197.00 811.27 L198.00 811.13 L199.00 811.17 L200.00 811.29 L201.00 810.83 L202.00 811.71 L203.00 811.53 L204.00 811.37 L205.00 811.79 L206.00 811.22 L207.00 810.86 L208.00 811.51 L209.00 811.15 L210.00 811.29 L211.00 811.10 L212.00 811.11 L213.00 810.85 L214.00 811.02 L215.00 811.15 L216.00 810.99 L217.00 811.27 L217.50 810.80" fill="none" stroke="#111" stroke-width="2.0" stroke-linejoin="round" stroke-linecap="round"/>
<path d="M313.4 728.5 L313.4 823.8 L497.0 823.8" fill="none" stroke="#2e2e2e" stroke-width="1.6"/>
<text x="311.9" y="827.0" font-size="9" text-anchor="end" fill="#2a2a2a">190</text>
<text x="311.9" y="808.1" font-size="9" text-anchor="end" fill="#2a2a2a">222</text>
<text x="311.9" y="789.3" font-size="9" text-anchor="end" fill="#2a2a2a">254</text>
<text x="311.9" y="770.4" font-size="9" text-anchor="end" fill="#2a2a2a">286</text>
<text x="311.9" y="751.6" font-size="9" text-anchor="end" fill="#2a2a2a">318</text>
<text x="311.9" y="732.7" font-size="9" text-anchor="end" fill="#2a2a2a">350</text>
<text x="315.3" y="835.0" font-size="9" text-anchor="middle" fill="#2a2a2a">0</text>
<text x="350.1" y="835.0" font-size="9" text-anchor="middle" fill="#2a2a2a">60</text>
<text x="386.8" y="835.0" font-size="9" text-anchor="middle" fill="#2a2a2a">120</text>
<text x="423.6" y="835.0" font-size="9" text-anchor="middle" fill="#2a2a2a">180</text>
<text x="460.3" y="835.0" font-size="9" text-anchor="middle" fill="#2a2a2a">240</text>
<text x="497.0" y="835.0" font-size="9" text-anchor="middle" fill="#2a2a2a">300</text>
<text x="416.3" y="849.8" font-size="9" text-anchor="middle" fill="#2a2a2a">Seconds</text>
<text transform="translate(286.5 772.0) rotate(-90)" font-size="9" text-anchor="middle" fill="#2a2a2a">Grey Level</text>
<text x="377.7" y="731.2" font-size="14" fill="#1a1a1a">Untransfected cells</text>
<text x="317.1" y="743.5" font-size="10.5" font-weight="bold" fill="#111">PAR2 AP</text>
<line x1="335.4" y1="748.0" x2="335.4" y2="761.4" stroke="#151515" stroke-width="1.3"/>
<path d="M333.2 760.4 L337.6 760.4 L335.4 766.0 Z" fill="#151515"/>
<path d="M314.00 810.91 L315.00 811.03 L316.00 810.99 L317.00 811.20 L318.00 810.71 L319.00 810.80 L320.00 810.76 L321.00 810.83 L322.00 811.40 L323.00 811.23 L324.00 810.98 L325.00 811.04 L326.00 811.60 L327.00 811.07 L328.00 811.27 L329.00 811.58 L330.00 811.82 L331.00 811.89 L332.00 811.50 L333.00 811.37 L334.00 811.47 L335.00 811.92 L336.00 811.93 L337.00 812.24 L338.00 812.21 L339.00 812.34 L340.00 810.43 L341.00 806.89 L342.00 796.70 L343.00 783.58 L344.00 774.23 L345.00 768.98 L346.00 764.66 L347.00 763.06 L348.00 761.54 L349.00 760.57 L350.00 760.16 L351.00 759.74 L352.00 759.71 L353.00 760.39 L354.00 760.41 L355.00 760.91 L356.00 761.38 L357.00 762.10 L358.00 762.94 L359.00 763.74 L360.00 765.36 L361.00 765.88 L362.00 766.60 L363.00 768.31 L364.00 768.87 L365.00 770.31 L366.00 771.46 L367.00 771.92 L368.00 772.88 L369.00 774.33 L370.00 774.36 L371.00 775.22 L372.00 776.07 L373.00 776.82 L374.00 778.07 L375.00 778.46 L376.00 778.78 L377.00 780.30 L378.00 780.78 L379.00 781.26 L380.00 782.44 L381.00 782.90 L382.00 783.55 L383.00 783.89 L384.00 784.67 L385.00 785.46 L386.00 785.65 L387.00 785.82 L388.00 785.94 L389.00 786.81 L390.00 787.14 L391.00 787.75 L392.00 788.07 L393.00 788.52 L394.00 788.67 L395.00 789.07 L396.00 789.17 L397.00 789.69 L398.00 790.01 L399.00 790.32 L400.00 790.34 L401.00 790.95 L402.00 791.12 L403.00 791.21 L404.00 791.77 L405.00 792.21 L406.00 792.21 L407.00 793.01 L408.00 792.99 L409.00 793.46 L410.00 793.64 L411.00 793.33 L412.00 793.59 L413.00 794.45 L414.00 794.52 L415.00 794.72 L416.00 795.13 L417.00 795.24 L418.00 795.37 L419.00 795.21 L420.00 795.94 L421.00 795.19 L422.00 796.15 L423.00 795.92 L424.00 796.41 L425.00 796.37 L426.00 796.58 L427.00 797.02 L428.00 796.65 L429.00 796.43 L430.00 796.95 L431.00 796.67 L432.00 797.24 L433.00 797.36 L434.00 797.84 L435.00 797.72 L436.00 798.12 L437.00 797.81 L438.00 798.42 L439.00 798.46 L440.00 798.91 L441.00 799.41 L442.00 799.17 L443.00 799.37 L444.00 799.08 L445.00 799.30 L446.00 800.08 L447.00 799.36 L448.00 799.85 L449.00 800.10 L450.00 800.30 L451.00 799.99 L452.00 800.20 L453.00 800.40 L454.00 800.67 L455.00 800.43 L456.00 800.41 L457.00 800.86 L458.00 800.87 L459.00 800.55 L460.00 800.84 L461.00 800.80 L462.00 800.91 L463.00 800.54 L464.00 801.09 L465.00 801.08 L466.00 800.78 L467.00 801.09 L468.00 800.87 L469.00 800.94 L470.00 801.02 L471.00 801.63 L472.00 801.38 L473.00 800.83 L474.00 801.41 L475.00 801.02 L476.00 801.44 L477.00 801.28 L478.00 801.41 L479.00 801.31 L480.00 800.93 L481.00 800.87 L482.00 801.03 L483.00 801.03 L484.00 801.24 L485.00 801.52 L486.00 800.95 L487.00 801.37 L488.00 800.98 L489.00 800.97 L489.20 800.80" fill="none" stroke="#111" stroke-width="2.0" stroke-linejoin="round" stroke-linecap="round"/>
<path d="M45.8 891.0 L45.8 986.4 L230.5 986.4" fill="none" stroke="#2e2e2e" stroke-width="1.6"/>
<text x="44.3" y="989.6" font-size="9" text-anchor="end" fill="#2a2a2a">190</text>
<text x="44.3" y="970.7" font-size="9" text-anchor="end" fill="#2a2a2a">222</text>
<text x="44.3" y="951.8" font-size="9" text-anchor="end" fill="#2a2a2a">254</text>
<text x="44.3" y="933.0" font-size="9" text-anchor="end" fill="#2a2a2a">286</text>
<text x="44.3" y="914.1" font-size="9" text-anchor="end" fill="#2a2a2a">318</text>
<text x="44.3" y="895.2" font-size="9" text-anchor="end" fill="#2a2a2a">350</text>
<text x="47.7" y="997.6" font-size="9" text-anchor="middle" fill="#2a2a2a">0</text>
<text x="82.7" y="997.6" font-size="9" text-anchor="middle" fill="#2a2a2a">60</text>
<text x="119.7" y="997.6" font-size="9" text-anchor="middle" fill="#2a2a2a">120</text>
<text x="156.6" y="997.6" font-size="9" text-anchor="middle" fill="#2a2a2a">180</text>
<text x="193.6" y="997.6" font-size="9" text-anchor="middle" fill="#2a2a2a">240</text>
<text x="230.5" y="997.6" font-size="9" text-anchor="middle" fill="#2a2a2a">300</text>
<text x="138.8" y="1012.3" font-size="9" text-anchor="middle" fill="#2a2a2a">Seconds</text>
<text transform="translate(15.9 934.6) rotate(-90)" font-size="9" text-anchor="middle" fill="#2a2a2a">Grey Level</text>
<text x="96.2" y="898.5" font-size="14" fill="#1a1a1a">PAR1 siRNA transfected</text>
<text x="50.2" y="910.0" font-size="10.5" font-weight="bold" fill="#111">PAR1 AP</text>
<line x1="67.4" y1="910.8" x2="67.4" y2="924.4" stroke="#151515" stroke-width="1.3"/>
<path d="M65.2 923.4 L69.6 923.4 L67.4 929.0 Z" fill="#151515"/>
<path d="M46.50 971.27 L47.50 970.98 L48.50 970.95 L49.50 970.64 L50.50 971.08 L51.50 971.17 L52.50 970.99 L53.50 971.03 L54.50 970.73 L55.50 971.49 L56.50 971.24 L57.50 971.07 L58.50 971.33 L59.50 971.28 L60.50 971.20 L61.50 971.06 L62.50 971.07 L63.50 971.10 L64.50 971.14 L65.50 971.08 L66.50 970.91 L67.50 970.98 L68.50 970.64 L69.50 970.22 L70.50 970.18 L71.50 970.72 L72.50 970.01 L73.50 970.17 L74.50 970.31 L75.50 970.62 L76.50 969.94 L77.50 970.27 L78.50 970.45 L79.50 970.56 L80.50 970.80 L81.50 971.02 L82.50 970.98 L83.50 971.55 L84.50 971.25 L85.50 970.51 L86.50 970.48 L87.50 970.80 L88.50 970.80 L89.50 971.17 L90.50 971.06 L91.50 971.12 L92.50 970.92 L93.50 971.05 L94.50 971.04 L95.50 970.90 L96.50 971.11 L97.50 970.62 L98.50 971.23 L99.50 971.15 L100.50 971.72 L101.50 970.92 L102.50 970.50 L103.50 970.69 L104.50 970.77 L105.50 970.58 L106.50 970.42 L107.50 970.60 L108.50 970.30 L109.50 970.91 L110.50 970.19 L111.50 970.68 L112.50 970.75 L113.50 970.57 L114.50 970.77 L115.50 970.48 L116.50 970.56 L117.50 970.08 L118.50 969.94 L119.50 970.08 L120.50 970.19 L121.50 970.33 L122.50 969.69 L123.50 969.77 L124.50 969.65 L125.50 969.98 L126.50 969.55 L127.50 969.91 L128.50 969.46 L129.50 969.28 L130.50 969.21 L131.50 968.61 L132.50 967.99 L133.50 968.14 L134.50 967.71 L135.50 968.06 L136.50 967.25 L137.50 966.99 L138.50 966.42 L139.50 966.08 L140.50 965.64 L141.50 965.57 L142.50 966.14 L143.50 965.54 L144.50 965.43 L145.50 965.62 L146.50 965.25 L147.50 965.13 L148.50 965.56 L149.50 964.99 L150.50 964.65 L151.50 964.50 L152.50 964.27 L153.50 964.40 L154.50 964.30 L155.50 964.07 L156.50 964.36 L157.50 964.22 L158.50 964.75 L159.50 965.21 L160.50 964.98 L161.50 965.40 L162.50 965.47 L163.50 965.83 L164.50 966.32 L165.50 966.29 L166.50 967.12 L167.50 967.46 L168.50 967.72 L169.50 967.49 L170.50 967.53 L171.50 968.11 L172.50 968.51 L173.50 968.68 L174.50 968.87 L175.50 969.14 L176.50 969.27 L177.50 969.74 L178.50 969.44 L179.50 970.11 L180.50 970.04 L181.50 968.33 L182.50 967.97 L183.50 965.67 L184.50 965.79 L185.50 965.55 L186.50 966.05 L187.50 966.64 L188.50 967.53 L189.50 967.78 L190.50 968.84 L191.50 968.88 L192.50 969.88 L193.50 969.84 L194.50 970.46 L195.50 970.84 L196.50 970.44 L197.50 971.18 L198.50 971.30 L199.50 970.96 L200.50 971.29 L201.50 971.58 L202.50 972.03 L203.50 972.20 L204.50 971.63 L205.50 971.51 L206.50 971.61 L207.50 970.98 L208.50 971.73 L209.50 971.53 L210.50 971.44 L211.50 971.80 L212.50 971.31 L213.50 971.12 L214.50 971.49 L215.50 971.04 L216.50 971.09 L217.50 970.92 L218.50 970.92 L219.50 970.90 L220.50 970.85 L221.50 970.41 L221.50 970.70" fill="none" stroke="#111" stroke-width="2.0" stroke-linejoin="round" stroke-linecap="round"/>
<path d="M313.5 890.4 L313.5 986.3 L497.0 986.3" fill="none" stroke="#2e2e2e" stroke-width="1.6"/>
<text x="312.0" y="989.5" font-size="9" text-anchor="end" fill="#2a2a2a">190</text>
<text x="312.0" y="970.5" font-size="9" text-anchor="end" fill="#2a2a2a">222</text>
<text x="312.0" y="951.5" font-size="9" text-anchor="end" fill="#2a2a2a">254</text>
<text x="312.0" y="932.6" font-size="9" text-anchor="end" fill="#2a2a2a">286</text>
<text x="312.0" y="913.6" font-size="9" text-anchor="end" fill="#2a2a2a">318</text>
<text x="312.0" y="894.6" font-size="9" text-anchor="end" fill="#2a2a2a">350</text>
<text x="315.4" y="997.5" font-size="9" text-anchor="middle" fill="#2a2a2a">0</text>
<text x="350.2" y="997.5" font-size="9" text-anchor="middle" fill="#2a2a2a">60</text>
<text x="386.9" y="997.5" font-size="9" text-anchor="middle" fill="#2a2a2a">120</text>
<text x="423.6" y="997.5" font-size="9" text-anchor="middle" fill="#2a2a2a">180</text>
<text x="460.3" y="997.5" font-size="9" text-anchor="middle" fill="#2a2a2a">240</text>
<text x="497.0" y="997.5" font-size="9" text-anchor="middle" fill="#2a2a2a">300</text>
<text x="408.8" y="1012.3" font-size="9" text-anchor="middle" fill="#2a2a2a">Seconds</text>
<text transform="translate(286.3 941.2) rotate(-90)" font-size="9" text-anchor="middle" fill="#2a2a2a">Grey Level</text>
<text x="362.7" y="893.8" font-size="14" fill="#1a1a1a">PAR1 siRNA transfected</text>
<text x="320.9" y="905.8" font-size="10.5" font-weight="bold" fill="#111">PAR2 AP</text>
<line x1="335.4" y1="911.2" x2="335.4" y2="924.2" stroke="#151515" stroke-width="1.3"/>
<path d="M333.2 923.2 L337.6 923.2 L335.4 928.8 Z" fill="#151515"/>
<path d="M314.00 975.49 L315.00 974.87 L316.00 974.98 L317.00 974.82 L318.00 974.81 L319.00 975.35 L320.00 975.02 L321.00 974.96 L322.00 975.27 L323.00 975.46 L324.00 975.27 L325.00 975.25 L326.00 974.83 L327.00 975.32 L328.00 975.21 L329.00 974.75 L330.00 974.83 L331.00 975.14 L332.00 974.75 L333.00 974.76 L334.00 974.76 L335.00 975.15 L336.00 974.81 L337.00 974.96 L338.00 975.14 L339.00 975.29 L340.00 975.27 L341.00 975.20 L342.00 975.15 L343.00 971.53 L344.00 965.92 L345.00 960.97 L346.00 956.26 L347.00 951.29 L348.00 948.07 L349.00 944.89 L350.00 941.94 L351.00 939.67 L352.00 937.54 L353.00 935.40 L354.00 934.50 L355.00 933.90 L356.00 935.15 L357.00 934.43 L358.00 935.42 L359.00 936.00 L360.00 936.39 L361.00 936.66 L362.00 937.20 L363.00 937.73 L364.00 938.05 L365.00 938.55 L366.00 939.15 L367.00 939.67 L368.00 940.22 L369.00 940.60 L370.00 941.84 L371.00 942.44 L372.00 942.96 L373.00 943.44 L374.00 944.25 L375.00 945.21 L376.00 946.01 L377.00 946.55 L378.00 947.67 L379.00 947.83 L380.00 949.18 L381.00 949.14 L382.00 950.41 L383.00 950.69 L384.00 951.21 L385.00 952.11 L386.00 952.68 L387.00 953.26 L388.00 953.99 L389.00 954.32 L390.00 954.69 L391.00 955.55 L392.00 956.29 L393.00 956.64 L394.00 956.52 L395.00 957.10 L396.00 957.62 L397.00 958.09 L398.00 958.09 L399.00 958.86 L400.00 959.04 L401.00 959.19 L402.00 960.14 L403.00 959.98 L404.00 960.19 L405.00 960.49 L406.00 960.47 L407.00 960.88 L408.00 961.09 L409.00 961.23 L410.00 961.36 L411.00 961.72 L412.00 961.74 L413.00 961.79 L414.00 962.09 L415.00 962.32 L416.00 962.24 L417.00 962.59 L418.00 962.59 L419.00 962.92 L420.00 963.22 L421.00 963.59 L422.00 963.97 L423.00 963.91 L424.00 963.64 L425.00 963.97 L426.00 963.67 L427.00 964.25 L428.00 964.37 L429.00 964.82 L430.00 965.05 L431.00 965.32 L432.00 965.22 L433.00 964.91 L434.00 965.24 L435.00 965.94 L436.00 965.65 L437.00 965.75 L438.00 965.74 L439.00 965.17 L440.00 965.75 L441.00 965.87 L442.00 965.68 L443.00 965.90 L444.00 966.29 L445.00 966.18 L446.00 966.25 L447.00 966.23 L448.00 966.41 L449.00 966.55 L450.00 966.54 L451.00 966.35 L452.00 966.47 L453.00 966.35 L454.00 967.03 L455.00 966.83 L456.00 967.17 L457.00 967.17 L458.00 966.66 L459.00 966.94 L460.00 967.13 L461.00 966.56 L462.00 967.12 L463.00 967.09 L464.00 966.98 L465.00 967.30 L466.00 966.88 L467.00 967.26 L468.00 967.56 L469.00 967.08 L470.00 967.40 L471.00 966.89 L472.00 966.92 L473.00 967.12 L474.00 966.89 L475.00 966.91 L476.00 966.90 L477.00 966.91 L478.00 966.19 L479.00 966.79 L480.00 966.25 L481.00 966.32 L482.00 966.10 L483.00 966.48 L484.00 966.14 L485.00 965.52 L486.00 965.69 L487.00 965.68 L488.00 965.69 L489.00 965.68 L489.20 965.60" fill="none" stroke="#111" stroke-width="2.0" stroke-linejoin="round" stroke-linecap="round"/>
<path d="M45.8 1046.2 L45.8 1141.6 L230.4 1141.6" fill="none" stroke="#2e2e2e" stroke-width="1.6"/>
<text x="44.3" y="1144.8" font-size="9" text-anchor="end" fill="#2a2a2a">190</text>
<text x="44.3" y="1125.9" font-size="9" text-anchor="end" fill="#2a2a2a">222</text>
<text x="44.3" y="1107.0" font-size="9" text-anchor="end" fill="#2a2a2a">254</text>
<text x="44.3" y="1088.2" font-size="9" text-anchor="end" fill="#2a2a2a">286</text>
<text x="44.3" y="1069.3" font-size="9" text-anchor="end" fill="#2a2a2a">318</text>
<text x="44.3" y="1050.4" font-size="9" text-anchor="end" fill="#2a2a2a">350</text>
<text x="47.7" y="1152.8" font-size="9" text-anchor="middle" fill="#2a2a2a">0</text>
<text x="82.7" y="1152.8" font-size="9" text-anchor="middle" fill="#2a2a2a">60</text>
<text x="119.6" y="1152.8" font-size="9" text-anchor="middle" fill="#2a2a2a">120</text>
<text x="156.6" y="1152.8" font-size="9" text-anchor="middle" fill="#2a2a2a">180</text>
<text x="193.5" y="1152.8" font-size="9" text-anchor="middle" fill="#2a2a2a">240</text>
<text x="230.4" y="1152.8" font-size="9" text-anchor="middle" fill="#2a2a2a">300</text>
<text x="138.8" y="1168.5" font-size="9" text-anchor="middle" fill="#2a2a2a">Seconds</text>
<text transform="translate(20.1 1097.4) rotate(-90)" font-size="9" text-anchor="middle" fill="#2a2a2a">Grey Level</text>
<text x="92.9" y="1049.8" font-size="14" fill="#1a1a1a">PAR2 siRNA transfected</text>
<text x="50.2" y="1061.5" font-size="10.5" font-weight="bold" fill="#111">PAR1 AP</text>
<line x1="67.4" y1="1066.2" x2="67.4" y2="1079.6" stroke="#151515" stroke-width="1.3"/>
<path d="M65.2 1078.6 L69.6 1078.6 L67.4 1084.2 Z" fill="#151515"/>
<path d="M46.50 1130.97 L47.50 1130.69 L48.50 1131.06 L49.50 1130.36 L50.50 1130.84 L51.50 1131.45 L52.50 1131.04 L53.50 1131.29 L54.50 1130.97 L55.50 1131.61 L56.50 1131.54 L57.50 1131.66 L58.50 1131.33 L59.50 1131.60 L60.50 1131.32 L61.50 1131.75 L62.50 1131.24 L63.50 1131.96 L64.50 1132.09 L65.50 1131.94 L66.50 1132.47 L67.50 1132.19 L68.50 1132.76 L69.50 1132.30 L70.50 1132.32 L71.50 1132.57 L72.50 1133.55 L73.50 1125.22 L74.50 1116.63 L75.50 1107.11 L76.50 1099.33 L77.50 1091.88 L78.50 1090.55 L79.50 1087.91 L80.50 1088.37 L81.50 1087.49 L82.50 1087.18 L83.50 1087.93 L84.50 1087.63 L85.50 1088.35 L86.50 1088.35 L87.50 1088.87 L88.50 1089.54 L89.50 1090.52 L90.50 1091.65 L91.50 1091.79 L92.50 1092.92 L93.50 1093.23 L94.50 1094.45 L95.50 1095.32 L96.50 1095.96 L97.50 1097.07 L98.50 1097.83 L99.50 1098.70 L100.50 1099.04 L101.50 1100.28 L102.50 1101.42 L103.50 1101.25 L104.50 1102.45 L105.50 1103.22 L106.50 1104.03 L107.50 1104.83 L108.50 1105.55 L109.50 1105.74 L110.50 1106.35 L111.50 1106.63 L112.50 1106.98 L113.50 1107.65 L114.50 1108.35 L115.50 1108.82 L116.50 1109.24 L117.50 1109.72 L118.50 1110.44 L119.50 1110.51 L120.50 1110.87 L121.50 1111.71 L122.50 1111.36 L123.50 1111.81 L124.50 1112.21 L125.50 1111.82 L126.50 1112.51 L127.50 1112.97 L128.50 1113.41 L129.50 1113.39 L130.50 1113.87 L131.50 1114.24 L132.50 1114.61 L133.50 1114.65 L134.50 1115.25 L135.50 1115.54 L136.50 1115.42 L137.50 1115.08 L138.50 1116.13 L139.50 1116.54 L140.50 1116.30 L141.50 1117.01 L142.50 1116.29 L143.50 1116.85 L144.50 1117.14 L145.50 1116.87 L146.50 1117.26 L147.50 1117.45 L148.50 1117.79 L149.50 1118.12 L150.50 1117.99 L151.50 1117.83 L152.50 1118.73 L153.50 1118.65 L154.50 1119.00 L155.50 1118.49 L156.50 1119.08 L157.50 1118.90 L158.50 1119.31 L159.50 1119.83 L160.50 1119.94 L161.50 1120.27 L162.50 1119.82 L163.50 1120.57 L164.50 1120.33 L165.50 1120.63 L166.50 1120.74 L167.50 1120.79 L168.50 1120.89 L169.50 1120.48 L170.50 1121.12 L171.50 1121.13 L172.50 1121.12 L173.50 1121.04 L174.50 1121.08 L175.50 1121.99 L176.50 1121.51 L177.50 1121.49 L178.50 1121.90 L179.50 1121.62 L180.50 1121.67 L181.50 1122.00 L182.50 1121.76 L183.50 1121.70 L184.50 1121.65 L185.50 1121.24 L186.50 1121.16 L187.50 1121.23 L188.50 1121.00 L189.50 1121.02 L190.50 1121.20 L191.50 1121.03 L192.50 1121.25 L193.50 1120.68 L194.50 1120.89 L195.50 1120.78 L196.50 1120.47 L197.50 1120.95 L198.50 1120.80 L199.50 1120.59 L200.50 1121.14 L201.50 1121.09 L202.50 1121.53 L203.50 1120.92 L204.50 1120.97 L205.50 1121.05 L206.50 1121.00 L207.50 1121.13 L208.50 1120.90 L209.50 1121.55 L210.50 1121.39 L211.50 1121.40 L212.50 1121.33 L213.50 1120.92 L214.50 1121.48 L215.50 1121.35 L216.50 1121.46 L217.50 1120.98 L218.50 1120.83 L219.50 1120.64 L220.50 1120.17 L220.90 1120.80" fill="none" stroke="#111" stroke-width="2.0" stroke-linejoin="round" stroke-linecap="round"/>
<path d="M316.2 1046.2 L316.2 1141.6 L500.8 1141.6" fill="none" stroke="#2e2e2e" stroke-width="1.6"/>
<text x="314.7" y="1144.8" font-size="9" text-anchor="end" fill="#2a2a2a">190</text>
<text x="314.7" y="1125.9" font-size="9" text-anchor="end" fill="#2a2a2a">222</text>
<text x="314.7" y="1107.0" font-size="9" text-anchor="end" fill="#2a2a2a">254</text>
<text x="314.7" y="1088.2" font-size="9" text-anchor="end" fill="#2a2a2a">286</text>
<text x="314.7" y="1069.3" font-size="9" text-anchor="end" fill="#2a2a2a">318</text>
<text x="314.7" y="1050.4" font-size="9" text-anchor="end" fill="#2a2a2a">350</text>
<text x="318.1" y="1152.8" font-size="9" text-anchor="middle" fill="#2a2a2a">0</text>
<text x="353.1" y="1152.8" font-size="9" text-anchor="middle" fill="#2a2a2a">60</text>
<text x="390.0" y="1152.8" font-size="9" text-anchor="middle" fill="#2a2a2a">120</text>
<text x="427.0" y="1152.8" font-size="9" text-anchor="middle" fill="#2a2a2a">180</text>
<text x="463.9" y="1152.8" font-size="9" text-anchor="middle" fill="#2a2a2a">240</text>
<text x="500.8" y="1152.8" font-size="9" text-anchor="middle" fill="#2a2a2a">300</text>
<text x="416.0" y="1168.5" font-size="9" text-anchor="middle" fill="#2a2a2a">Seconds</text>
<text transform="translate(290.1 1090.0) rotate(-90)" font-size="9" text-anchor="middle" fill="#2a2a2a">Grey Level</text>
<text x="362.7" y="1049.8" font-size="14" fill="#1a1a1a">PAR2 siRNA transfected</text>
<text x="320.4" y="1061.5" font-size="10.5" font-weight="bold" fill="#111">PAR2 AP</text>
<line x1="338.8" y1="1066.6" x2="338.8" y2="1079.6" stroke="#151515" stroke-width="1.3"/>
<path d="M336.6 1078.6 L341.0 1078.6 L338.8 1084.2 Z" fill="#151515"/>
<path d="M316.50 1126.77 L317.50 1126.39 L318.50 1127.52 L319.50 1127.00 L320.50 1126.99 L321.50 1126.89 L322.50 1127.13 L323.50 1126.57 L324.50 1127.26 L325.50 1127.63 L326.50 1126.85 L327.50 1127.25 L328.50 1126.84 L329.50 1126.75 L330.50 1127.08 L331.50 1126.89 L332.50 1126.97 L333.50 1127.13 L334.50 1127.09 L335.50 1127.43 L336.50 1127.36 L337.50 1127.27 L338.50 1127.24 L339.50 1127.05 L340.50 1127.14 L341.50 1127.24 L342.50 1127.22 L343.50 1127.12 L344.50 1127.42 L345.50 1127.64 L346.50 1126.98 L347.50 1127.40 L348.50 1127.07 L349.50 1127.15 L350.50 1127.24 L351.50 1127.46 L352.50 1127.54 L353.50 1127.59 L354.50 1127.50 L355.50 1127.75 L356.50 1127.69 L357.50 1127.48 L358.50 1127.76 L359.50 1127.80 L360.50 1128.01 L361.50 1128.07 L362.50 1128.16 L363.50 1127.66 L364.50 1128.12 L365.50 1127.76 L366.50 1127.65 L367.50 1127.99 L368.50 1127.84 L369.50 1127.82 L370.50 1127.76 L371.50 1128.00 L372.50 1127.82 L373.50 1127.65 L374.50 1128.05 L375.50 1128.04 L376.50 1127.85 L377.50 1127.99 L378.50 1128.16 L379.50 1128.26 L380.50 1128.57 L381.50 1128.51 L382.50 1128.31 L383.50 1128.11 L384.50 1128.39 L385.50 1128.14 L386.50 1128.57 L387.50 1128.37 L388.50 1128.77 L389.50 1128.24 L390.50 1128.77 L391.50 1128.80 L392.50 1128.60 L393.50 1129.18 L394.50 1128.73 L395.50 1128.76 L396.50 1128.85 L397.50 1128.70 L398.50 1129.08 L399.50 1128.83 L400.50 1129.21 L401.50 1129.20 L402.50 1128.85 L403.50 1129.21 L404.50 1129.06 L405.50 1129.19 L406.50 1129.25 L407.50 1129.37 L408.50 1129.63 L409.50 1129.35 L410.50 1129.38 L411.50 1129.60 L412.50 1129.47 L413.50 1129.52 L414.50 1129.78 L415.50 1129.92 L416.50 1129.26 L417.50 1129.62 L418.50 1129.86 L419.50 1129.59 L420.50 1129.85 L421.50 1129.40 L422.50 1130.03 L423.50 1129.65 L424.50 1129.97 L425.50 1129.94 L426.50 1130.16 L427.50 1130.38 L428.50 1129.79 L429.50 1130.03 L430.50 1130.11 L431.50 1130.26 L432.50 1130.18 L433.50 1130.44 L434.50 1130.23 L435.50 1130.20 L436.50 1130.42 L437.50 1130.12 L438.50 1130.20 L439.50 1130.72 L440.50 1130.71 L441.50 1130.43 L442.50 1131.08 L443.50 1130.82 L444.50 1130.55 L445.50 1131.22 L446.50 1130.49 L447.50 1130.80 L448.50 1130.86 L449.50 1130.72 L450.50 1130.98 L451.50 1130.72 L452.50 1131.00 L453.50 1130.31 L454.50 1131.07 L455.50 1130.79 L456.50 1131.31 L457.50 1130.97 L458.50 1130.99 L459.50 1131.31 L460.50 1131.42 L461.50 1131.32 L462.50 1130.86 L463.50 1131.30 L464.50 1131.41 L465.50 1131.03 L466.50 1131.55 L467.50 1131.28 L468.50 1131.52 L469.50 1131.42 L470.50 1130.98 L471.50 1131.18 L472.50 1131.20 L473.50 1131.18 L474.50 1131.17 L475.50 1131.41 L476.50 1131.32 L477.50 1131.42 L478.50 1131.38 L479.50 1131.77 L480.50 1131.62 L481.50 1131.22 L482.50 1131.27 L483.50 1131.21 L484.50 1131.04 L485.50 1131.58 L486.50 1131.30 L487.50 1131.18 L488.50 1131.88 L489.50 1131.17 L490.50 1131.42 L491.50 1131.01 L492.30 1130.50" fill="none" stroke="#111" stroke-width="2.0" stroke-linejoin="round" stroke-linecap="round"/>
</g></svg>
</body></html>
